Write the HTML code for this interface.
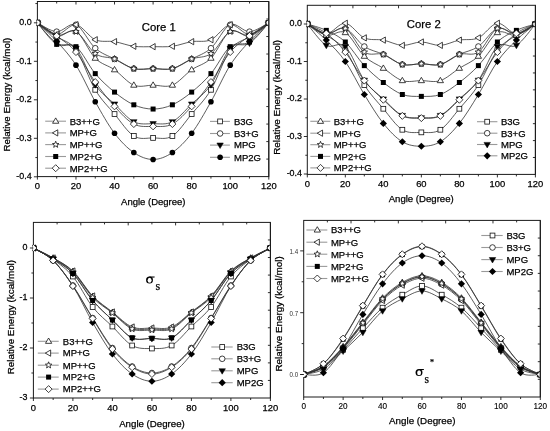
<!DOCTYPE html>
<html><head><meta charset="utf-8"><title>Relative Energy plots</title>
<style>html,body{margin:0;padding:0;background:#fff;}body{width:550px;height:431px;overflow:hidden;font-family:"Liberation Sans",sans-serif;}svg{display:block;will-change:transform;filter:blur(0.35px);} text{stroke:#000;stroke-width:0.25px;}</style>
</head><body>
<svg width="550" height="431" viewBox="0 0 550 431">
<rect width="550" height="431" fill="#fff"/>
<clipPath id="c37"><rect x="36.7" y="1.5" width="231.6" height="175.1"/></clipPath>
<rect x="37.4" y="1.5" width="231.4" height="175.1" fill="none" stroke="#1a1a1a" stroke-width="1"/>
<g clip-path="url(#c37)">
<path d="M37.4,22.8 C40.61,24.28 50.26,31.33 56.68,31.66 C63.11,31.98 69.54,21.97 75.97,24.73 C82.39,27.48 88.82,42.5 95.25,48.21 C101.68,53.92 108.11,55.59 114.53,58.99 C120.96,62.39 127.39,67.01 133.82,68.61 C140.24,70.22 146.67,68.61 153.1,68.61 C159.53,68.61 165.96,70.22 172.38,68.61 C178.81,67.01 185.24,62.39 191.67,58.99 C198.09,55.59 204.52,53.92 210.95,48.21 C217.38,42.5 223.81,27.48 230.23,24.73 C236.66,21.97 243.09,31.98 249.52,31.66 C255.94,31.33 265.59,24.28 268.8,22.8" fill="none" stroke="#333333" stroke-width="0.8"/>
<path d="M37.4,22.8 C40.61,25.05 50.26,34.86 56.68,36.28 C63.11,37.69 69.54,27.61 75.97,31.27 C82.39,34.93 88.82,51.8 95.25,58.22 C101.68,64.64 108.11,65.28 114.53,69.77 C120.96,74.26 127.39,82.6 133.82,85.17 C140.24,87.74 146.67,85.17 153.1,85.17 C159.53,85.17 165.96,87.74 172.38,85.17 C178.81,82.6 185.24,74.26 191.67,69.77 C198.09,65.28 204.52,64.64 210.95,58.22 C217.38,51.8 223.81,34.93 230.23,31.27 C236.66,27.61 243.09,37.69 249.52,36.28 C255.94,34.86 265.59,25.05 268.8,22.8" fill="none" stroke="#333333" stroke-width="0.8"/>
<path d="M37.4,22.8 C40.61,24.85 50.26,33.64 56.68,35.12 C63.11,36.6 69.54,28.58 75.97,31.66 C82.39,34.73 88.82,49.04 95.25,53.6 C101.68,58.16 108.11,56.49 114.53,58.99 C120.96,61.49 127.39,67.01 133.82,68.61 C140.24,70.22 146.67,68.61 153.1,68.61 C159.53,68.61 165.96,70.22 172.38,68.61 C178.81,67.01 185.24,61.49 191.67,58.99 C198.09,56.49 204.52,58.16 210.95,53.6 C217.38,49.04 223.81,34.73 230.23,31.66 C236.66,28.58 243.09,36.6 249.52,35.12 C255.94,33.64 265.59,24.85 268.8,22.8" fill="none" stroke="#333333" stroke-width="0.8"/>
<path d="M37.4,22.8 C40.61,24.73 50.26,34.03 56.68,34.35 C63.11,34.67 69.54,23.83 75.97,24.73 C82.39,25.62 88.82,36.92 95.25,39.74 C101.68,42.56 108.11,40.57 114.53,41.67 C120.96,42.76 127.39,45.45 133.82,46.28 C140.24,47.12 146.67,46.67 153.1,46.67 C159.53,46.67 165.96,47.12 172.38,46.28 C178.81,45.45 185.24,42.76 191.67,41.67 C198.09,40.57 204.52,42.56 210.95,39.74 C217.38,36.92 223.81,25.62 230.23,24.73 C236.66,23.83 243.09,34.67 249.52,34.35 C255.94,34.03 265.59,24.73 268.8,22.8" fill="none" stroke="#333333" stroke-width="0.8"/>
<path d="M37.4,22.8 C40.61,25.11 50.26,32.17 56.68,36.66 C63.11,41.15 69.54,40.9 75.97,49.75 C82.39,58.6 88.82,79.07 95.25,89.79 C101.68,100.51 108.11,106.34 114.53,114.04 C120.96,121.74 127.39,132.01 133.82,135.99 C140.24,139.97 146.67,137.91 153.1,137.91 C159.53,137.91 165.96,139.97 172.38,135.99 C178.81,132.01 185.24,121.74 191.67,114.04 C198.09,106.34 204.52,100.51 210.95,89.79 C217.38,79.07 223.81,58.6 230.23,49.75 C236.66,40.9 243.09,41.15 249.52,36.66 C255.94,32.17 265.59,25.11 268.8,22.8" fill="none" stroke="#333333" stroke-width="0.8"/>
<path d="M37.4,22.8 C40.61,26.39 50.26,40.38 56.68,44.36 C63.11,48.34 69.54,41.79 75.97,46.67 C82.39,51.55 88.82,66.05 95.25,73.62 C101.68,81.19 108.11,86.9 114.53,92.1 C120.96,97.3 127.39,101.98 133.82,104.8 C140.24,107.63 146.67,109.04 153.1,109.04 C159.53,109.04 165.96,107.63 172.38,104.8 C178.81,101.98 185.24,97.3 191.67,92.1 C198.09,86.9 204.52,81.19 210.95,73.62 C217.38,66.05 223.81,51.93 230.23,46.67 C236.66,41.41 243.09,46.03 249.52,42.05 C255.94,38.07 265.59,26.01 268.8,22.8" fill="none" stroke="#333333" stroke-width="0.8"/>
<path d="M37.4,22.8 C40.61,26.2 50.26,38.97 56.68,43.2 C63.11,47.44 69.54,41.28 75.97,48.21 C82.39,55.14 88.82,75.48 95.25,84.78 C101.68,94.09 108.11,97.88 114.53,104.03 C120.96,110.19 127.39,118.47 133.82,121.75 C140.24,125.02 146.67,123.67 153.1,123.67 C159.53,123.67 165.96,125.02 172.38,121.75 C178.81,118.47 185.24,110.19 191.67,104.03 C198.09,97.88 204.52,94.09 210.95,84.78 C217.38,75.48 223.81,55.14 230.23,48.21 C236.66,41.28 243.09,47.44 249.52,43.2 C255.94,38.97 265.59,26.2 268.8,22.8" fill="none" stroke="#333333" stroke-width="0.8"/>
<path d="M37.4,22.8 C40.61,24.98 50.26,31.01 56.68,35.89 C63.11,40.77 69.54,44.36 75.97,52.06 C82.39,59.76 88.82,73.04 95.25,82.09 C101.68,91.14 108.11,99.35 114.53,106.34 C120.96,113.34 127.39,120.72 133.82,124.06 C140.24,127.39 146.67,126.37 153.1,126.37 C159.53,126.37 165.96,127.39 172.38,124.06 C178.81,120.72 185.24,113.34 191.67,106.34 C198.09,99.35 204.52,91.14 210.95,82.09 C217.38,73.04 223.81,59.76 230.23,52.06 C236.66,44.36 243.09,40.77 249.52,35.89 C255.94,31.01 265.59,24.98 268.8,22.8" fill="none" stroke="#333333" stroke-width="0.8"/>
<path d="M37.4,22.8 C40.61,25.88 50.26,34.22 56.68,41.28 C63.11,48.34 69.54,55.08 75.97,65.15 C82.39,75.22 88.82,90.37 95.25,101.72 C101.68,113.08 108.11,124.82 114.53,133.29 C120.96,141.76 127.39,148.18 133.82,152.55 C140.24,156.91 146.67,159.47 153.1,159.47 C159.53,159.47 165.96,156.91 172.38,152.55 C178.81,148.18 185.24,141.76 191.67,133.29 C198.09,124.82 204.52,113.08 210.95,101.72 C217.38,90.37 223.81,75.22 230.23,65.15 C236.66,55.08 243.09,48.34 249.52,41.28 C255.94,34.22 265.59,25.88 268.8,22.8" fill="none" stroke="#333333" stroke-width="0.8"/>
<circle cx="37.4" cy="22.8" r="2.8" fill="#fff" stroke="#111" stroke-width="0.8"/>
<circle cx="56.68" cy="31.66" r="2.8" fill="#fff" stroke="#111" stroke-width="0.8"/>
<circle cx="75.97" cy="24.73" r="2.8" fill="#fff" stroke="#111" stroke-width="0.8"/>
<circle cx="95.25" cy="48.21" r="2.8" fill="#fff" stroke="#111" stroke-width="0.8"/>
<circle cx="114.53" cy="58.99" r="2.8" fill="#fff" stroke="#111" stroke-width="0.8"/>
<circle cx="133.82" cy="68.61" r="2.8" fill="#fff" stroke="#111" stroke-width="0.8"/>
<circle cx="153.1" cy="68.61" r="2.8" fill="#fff" stroke="#111" stroke-width="0.8"/>
<circle cx="172.38" cy="68.61" r="2.8" fill="#fff" stroke="#111" stroke-width="0.8"/>
<circle cx="191.67" cy="58.99" r="2.8" fill="#fff" stroke="#111" stroke-width="0.8"/>
<circle cx="210.95" cy="48.21" r="2.8" fill="#fff" stroke="#111" stroke-width="0.8"/>
<circle cx="230.23" cy="24.73" r="2.8" fill="#fff" stroke="#111" stroke-width="0.8"/>
<circle cx="249.52" cy="31.66" r="2.8" fill="#fff" stroke="#111" stroke-width="0.8"/>
<circle cx="268.8" cy="22.8" r="2.8" fill="#fff" stroke="#111" stroke-width="0.8"/>
<polygon points="37.4,19.5 40.53,24.85 34.27,24.85" fill="#fff" stroke="#111" stroke-width="0.8"/>
<polygon points="56.68,32.98 59.82,38.32 53.55,38.32" fill="#fff" stroke="#111" stroke-width="0.8"/>
<polygon points="75.97,27.97 79.1,33.32 72.83,33.32" fill="#fff" stroke="#111" stroke-width="0.8"/>
<polygon points="95.25,54.92 98.39,60.27 92.11,60.27" fill="#fff" stroke="#111" stroke-width="0.8"/>
<polygon points="114.53,66.47 117.67,71.82 111.4,71.82" fill="#fff" stroke="#111" stroke-width="0.8"/>
<polygon points="133.82,81.87 136.95,87.22 130.68,87.22" fill="#fff" stroke="#111" stroke-width="0.8"/>
<polygon points="153.1,81.87 156.23,87.22 149.97,87.22" fill="#fff" stroke="#111" stroke-width="0.8"/>
<polygon points="172.38,81.87 175.52,87.22 169.25,87.22" fill="#fff" stroke="#111" stroke-width="0.8"/>
<polygon points="191.67,66.47 194.8,71.82 188.53,71.82" fill="#fff" stroke="#111" stroke-width="0.8"/>
<polygon points="210.95,54.92 214.09,60.27 207.82,60.27" fill="#fff" stroke="#111" stroke-width="0.8"/>
<polygon points="230.23,27.97 233.37,33.32 227.1,33.32" fill="#fff" stroke="#111" stroke-width="0.8"/>
<polygon points="249.52,32.98 252.65,38.32 246.38,38.32" fill="#fff" stroke="#111" stroke-width="0.8"/>
<polygon points="268.8,19.5 271.94,24.85 265.67,24.85" fill="#fff" stroke="#111" stroke-width="0.8"/>
<polygon points="37.4,19.4 38.25,21.63 40.63,21.75 38.78,23.25 39.4,25.55 37.4,24.25 35.4,25.55 36.02,23.25 34.17,21.75 36.55,21.63" fill="#fff" stroke="#111" stroke-width="0.8"/>
<polygon points="56.68,31.72 57.54,33.95 59.92,34.07 58.06,35.57 58.68,37.87 56.68,36.57 54.68,37.87 55.3,35.57 53.45,34.07 55.83,33.95" fill="#fff" stroke="#111" stroke-width="0.8"/>
<polygon points="75.97,28.26 76.82,30.48 79.2,30.6 77.35,32.1 77.97,34.41 75.97,33.11 73.97,34.41 74.59,32.1 72.73,30.6 75.11,30.48" fill="#fff" stroke="#111" stroke-width="0.8"/>
<polygon points="95.25,50.2 96.1,52.43 98.48,52.55 96.63,54.05 97.25,56.35 95.25,55.05 93.25,56.35 93.87,54.05 92.02,52.55 94.4,52.43" fill="#fff" stroke="#111" stroke-width="0.8"/>
<polygon points="114.53,55.59 115.39,57.82 117.77,57.94 115.91,59.44 116.53,61.74 114.53,60.44 112.53,61.74 113.15,59.44 111.3,57.94 113.68,57.82" fill="#fff" stroke="#111" stroke-width="0.8"/>
<polygon points="133.82,65.21 134.67,67.44 137.05,67.56 135.2,69.06 135.82,71.37 133.82,70.06 131.82,71.37 132.44,69.06 130.58,67.56 132.96,67.44" fill="#fff" stroke="#111" stroke-width="0.8"/>
<polygon points="153.1,65.21 153.95,67.44 156.33,67.56 154.48,69.06 155.1,71.37 153.1,70.06 151.1,71.37 151.72,69.06 149.87,67.56 152.25,67.44" fill="#fff" stroke="#111" stroke-width="0.8"/>
<polygon points="172.38,65.21 173.24,67.44 175.62,67.56 173.76,69.06 174.38,71.37 172.38,70.06 170.38,71.37 171,69.06 169.15,67.56 171.53,67.44" fill="#fff" stroke="#111" stroke-width="0.8"/>
<polygon points="191.67,55.59 192.52,57.82 194.9,57.94 193.05,59.44 193.67,61.74 191.67,60.44 189.67,61.74 190.29,59.44 188.43,57.94 190.81,57.82" fill="#fff" stroke="#111" stroke-width="0.8"/>
<polygon points="210.95,50.2 211.8,52.43 214.18,52.55 212.33,54.05 212.95,56.35 210.95,55.05 208.95,56.35 209.57,54.05 207.72,52.55 210.1,52.43" fill="#fff" stroke="#111" stroke-width="0.8"/>
<polygon points="230.23,28.26 231.09,30.48 233.47,30.6 231.61,32.1 232.23,34.41 230.23,33.11 228.23,34.41 228.85,32.1 227,30.6 229.38,30.48" fill="#fff" stroke="#111" stroke-width="0.8"/>
<polygon points="249.52,31.72 250.37,33.95 252.75,34.07 250.9,35.57 251.52,37.87 249.52,36.57 247.52,37.87 248.14,35.57 246.28,34.07 248.66,33.95" fill="#fff" stroke="#111" stroke-width="0.8"/>
<polygon points="268.8,19.4 269.65,21.63 272.03,21.75 270.18,23.25 270.8,25.55 268.8,24.25 266.8,25.55 267.42,23.25 265.57,21.75 267.95,21.63" fill="#fff" stroke="#111" stroke-width="0.8"/>
<polygon points="34.1,22.8 39.45,19.66 39.45,25.94" fill="#fff" stroke="#111" stroke-width="0.8"/>
<polygon points="53.38,34.35 58.73,31.22 58.73,37.48" fill="#fff" stroke="#111" stroke-width="0.8"/>
<polygon points="72.67,24.73 78.01,21.59 78.01,27.86" fill="#fff" stroke="#111" stroke-width="0.8"/>
<polygon points="91.95,39.74 97.3,36.6 97.3,42.87" fill="#fff" stroke="#111" stroke-width="0.8"/>
<polygon points="111.23,41.67 116.58,38.53 116.58,44.8" fill="#fff" stroke="#111" stroke-width="0.8"/>
<polygon points="130.52,46.28 135.86,43.15 135.86,49.42" fill="#fff" stroke="#111" stroke-width="0.8"/>
<polygon points="149.8,46.67 155.15,43.54 155.15,49.8" fill="#fff" stroke="#111" stroke-width="0.8"/>
<polygon points="169.08,46.28 174.43,43.15 174.43,49.42" fill="#fff" stroke="#111" stroke-width="0.8"/>
<polygon points="188.37,41.67 193.71,38.53 193.71,44.8" fill="#fff" stroke="#111" stroke-width="0.8"/>
<polygon points="207.65,39.74 213,36.6 213,42.87" fill="#fff" stroke="#111" stroke-width="0.8"/>
<polygon points="226.93,24.73 232.28,21.59 232.28,27.86" fill="#fff" stroke="#111" stroke-width="0.8"/>
<polygon points="246.22,34.35 251.56,31.22 251.56,37.48" fill="#fff" stroke="#111" stroke-width="0.8"/>
<polygon points="265.5,22.8 270.85,19.66 270.85,25.94" fill="#fff" stroke="#111" stroke-width="0.8"/>
<rect x="35" y="20.4" width="4.8" height="4.8" fill="#fff" stroke="#111" stroke-width="0.8"/>
<rect x="54.28" y="34.26" width="4.8" height="4.8" fill="#fff" stroke="#111" stroke-width="0.8"/>
<rect x="73.57" y="47.35" width="4.8" height="4.8" fill="#fff" stroke="#111" stroke-width="0.8"/>
<rect x="92.85" y="87.39" width="4.8" height="4.8" fill="#fff" stroke="#111" stroke-width="0.8"/>
<rect x="112.13" y="111.64" width="4.8" height="4.8" fill="#fff" stroke="#111" stroke-width="0.8"/>
<rect x="131.42" y="133.59" width="4.8" height="4.8" fill="#fff" stroke="#111" stroke-width="0.8"/>
<rect x="150.7" y="135.51" width="4.8" height="4.8" fill="#fff" stroke="#111" stroke-width="0.8"/>
<rect x="169.98" y="133.59" width="4.8" height="4.8" fill="#fff" stroke="#111" stroke-width="0.8"/>
<rect x="189.27" y="111.64" width="4.8" height="4.8" fill="#fff" stroke="#111" stroke-width="0.8"/>
<rect x="208.55" y="87.39" width="4.8" height="4.8" fill="#fff" stroke="#111" stroke-width="0.8"/>
<rect x="227.83" y="47.35" width="4.8" height="4.8" fill="#fff" stroke="#111" stroke-width="0.8"/>
<rect x="247.12" y="34.26" width="4.8" height="4.8" fill="#fff" stroke="#111" stroke-width="0.8"/>
<rect x="266.4" y="20.4" width="4.8" height="4.8" fill="#fff" stroke="#111" stroke-width="0.8"/>
<rect x="34.9" y="20.3" width="5" height="5" fill="#000"/>
<rect x="54.18" y="41.86" width="5" height="5" fill="#000"/>
<rect x="73.47" y="44.17" width="5" height="5" fill="#000"/>
<rect x="92.75" y="71.12" width="5" height="5" fill="#000"/>
<rect x="112.03" y="89.6" width="5" height="5" fill="#000"/>
<rect x="131.32" y="102.3" width="5" height="5" fill="#000"/>
<rect x="150.6" y="106.54" width="5" height="5" fill="#000"/>
<rect x="169.88" y="102.3" width="5" height="5" fill="#000"/>
<rect x="189.17" y="89.6" width="5" height="5" fill="#000"/>
<rect x="208.45" y="71.12" width="5" height="5" fill="#000"/>
<rect x="227.73" y="44.17" width="5" height="5" fill="#000"/>
<rect x="247.02" y="39.55" width="5" height="5" fill="#000"/>
<rect x="266.3" y="20.3" width="5" height="5" fill="#000"/>
<polygon points="37.4,26.2 40.63,20.69 34.17,20.69" fill="#000" stroke="#000" stroke-width="0.5"/>
<polygon points="56.68,46.6 59.91,41.1 53.45,41.1" fill="#000" stroke="#000" stroke-width="0.5"/>
<polygon points="75.97,51.61 79.2,46.1 72.74,46.1" fill="#000" stroke="#000" stroke-width="0.5"/>
<polygon points="95.25,88.19 98.48,82.68 92.02,82.68" fill="#000" stroke="#000" stroke-width="0.5"/>
<polygon points="114.53,107.44 117.76,101.93 111.3,101.93" fill="#000" stroke="#000" stroke-width="0.5"/>
<polygon points="133.82,125.15 137.05,119.64 130.59,119.64" fill="#000" stroke="#000" stroke-width="0.5"/>
<polygon points="153.1,127.07 156.33,121.56 149.87,121.56" fill="#000" stroke="#000" stroke-width="0.5"/>
<polygon points="172.38,125.15 175.61,119.64 169.15,119.64" fill="#000" stroke="#000" stroke-width="0.5"/>
<polygon points="191.67,107.44 194.9,101.93 188.44,101.93" fill="#000" stroke="#000" stroke-width="0.5"/>
<polygon points="210.95,88.19 214.18,82.68 207.72,82.68" fill="#000" stroke="#000" stroke-width="0.5"/>
<polygon points="230.23,51.61 233.46,46.1 227,46.1" fill="#000" stroke="#000" stroke-width="0.5"/>
<polygon points="249.52,46.6 252.75,41.1 246.29,41.1" fill="#000" stroke="#000" stroke-width="0.5"/>
<polygon points="268.8,26.2 272.03,20.69 265.57,20.69" fill="#000" stroke="#000" stroke-width="0.5"/>
<polygon points="37.4,19.3 40.9,22.8 37.4,26.3 33.9,22.8" fill="#fff" stroke="#111" stroke-width="0.8"/>
<polygon points="56.68,32.39 60.18,35.89 56.68,39.39 53.18,35.89" fill="#fff" stroke="#111" stroke-width="0.8"/>
<polygon points="75.97,48.56 79.47,52.06 75.97,55.56 72.47,52.06" fill="#fff" stroke="#111" stroke-width="0.8"/>
<polygon points="95.25,78.59 98.75,82.09 95.25,85.59 91.75,82.09" fill="#fff" stroke="#111" stroke-width="0.8"/>
<polygon points="114.53,102.84 118.03,106.34 114.53,109.84 111.03,106.34" fill="#fff" stroke="#111" stroke-width="0.8"/>
<polygon points="133.82,120.56 137.32,124.06 133.82,127.56 130.32,124.06" fill="#fff" stroke="#111" stroke-width="0.8"/>
<polygon points="153.1,122.87 156.6,126.37 153.1,129.87 149.6,126.37" fill="#fff" stroke="#111" stroke-width="0.8"/>
<polygon points="172.38,120.56 175.88,124.06 172.38,127.56 168.88,124.06" fill="#fff" stroke="#111" stroke-width="0.8"/>
<polygon points="191.67,102.84 195.17,106.34 191.67,109.84 188.17,106.34" fill="#fff" stroke="#111" stroke-width="0.8"/>
<polygon points="210.95,78.59 214.45,82.09 210.95,85.59 207.45,82.09" fill="#fff" stroke="#111" stroke-width="0.8"/>
<polygon points="230.23,48.56 233.73,52.06 230.23,55.56 226.73,52.06" fill="#fff" stroke="#111" stroke-width="0.8"/>
<polygon points="249.52,32.39 253.02,35.89 249.52,39.39 246.02,35.89" fill="#fff" stroke="#111" stroke-width="0.8"/>
<polygon points="268.8,19.3 272.3,22.8 268.8,26.3 265.3,22.8" fill="#fff" stroke="#111" stroke-width="0.8"/>
<circle cx="37.4" cy="22.8" r="2.8" fill="#000"/>
<circle cx="56.68" cy="41.28" r="2.8" fill="#000"/>
<circle cx="75.97" cy="65.15" r="2.8" fill="#000"/>
<circle cx="95.25" cy="101.72" r="2.8" fill="#000"/>
<circle cx="114.53" cy="133.29" r="2.8" fill="#000"/>
<circle cx="133.82" cy="152.55" r="2.8" fill="#000"/>
<circle cx="153.1" cy="159.47" r="2.8" fill="#000"/>
<circle cx="172.38" cy="152.55" r="2.8" fill="#000"/>
<circle cx="191.67" cy="133.29" r="2.8" fill="#000"/>
<circle cx="210.95" cy="101.72" r="2.8" fill="#000"/>
<circle cx="230.23" cy="65.15" r="2.8" fill="#000"/>
<circle cx="249.52" cy="41.28" r="2.8" fill="#000"/>
<circle cx="268.8" cy="22.8" r="2.8" fill="#000"/>
<circle cx="37.4" cy="22.8" r="2.8" fill="#fff" stroke="#111" stroke-width="0.8"/>
<circle cx="268.8" cy="22.8" r="2.8" fill="#fff" stroke="#111" stroke-width="0.8"/>
</g>
<line x1="268.8" y1="1.5" x2="268.8" y2="176.6" stroke="#1a1a1a" stroke-width="1"/>
<path d="M37.4,176.6 v3 M56.68,176.6 v2 M75.97,176.6 v3 M95.25,176.6 v2 M114.53,176.6 v3 M133.82,176.6 v2 M153.1,176.6 v3 M172.38,176.6 v2 M191.67,176.6 v3 M210.95,176.6 v2 M230.23,176.6 v3 M249.52,176.6 v2 M268.8,176.6 v3 M56.68,1.5 v2 M75.97,1.5 v3 M95.25,1.5 v2 M114.53,1.5 v3 M133.82,1.5 v2 M153.1,1.5 v3 M172.38,1.5 v2 M191.67,1.5 v3 M210.95,1.5 v2 M230.23,1.5 v3 M249.52,1.5 v2 M37.4,3.55 h-2 M37.4,22.8 h-3.5 M37.4,42.05 h-2 M37.4,61.3 h-3.5 M37.4,80.55 h-2 M37.4,99.8 h-3.5 M37.4,119.05 h-2 M37.4,138.3 h-3.5 M37.4,157.55 h-2 M37.4,176.8 h-3.5 M268.8,19.01 h-2.5 M268.8,36.52 h-2.5 M268.8,54.03 h-2.5 M268.8,71.54 h-2.5 M268.8,89.05 h-2.5 M268.8,106.56 h-2.5 M268.8,124.07 h-2.5 M268.8,141.58 h-2.5 M268.8,159.09 h-2.5" stroke="#1a1a1a" stroke-width="0.9" fill="none"/>
<text x="37.4" y="189" font-size="9.4" text-anchor="middle" font-family='"Liberation Sans", sans-serif' >0</text>
<text x="75.97" y="189" font-size="9.4" text-anchor="middle" font-family='"Liberation Sans", sans-serif' >20</text>
<text x="114.53" y="189" font-size="9.4" text-anchor="middle" font-family='"Liberation Sans", sans-serif' >40</text>
<text x="153.1" y="189" font-size="9.4" text-anchor="middle" font-family='"Liberation Sans", sans-serif' >60</text>
<text x="191.67" y="189" font-size="9.4" text-anchor="middle" font-family='"Liberation Sans", sans-serif' >80</text>
<text x="230.23" y="189" font-size="9.4" text-anchor="middle" font-family='"Liberation Sans", sans-serif' >100</text>
<text x="268.8" y="189" font-size="9.4" text-anchor="middle" font-family='"Liberation Sans", sans-serif' >120</text>
<text transform="translate(31.6,25.2) scale(0.95,1)" font-size="9.4" text-anchor="end" font-family='"Liberation Sans", sans-serif'>0.0</text>
<text transform="translate(31.6,63.7) scale(0.95,1)" font-size="9.4" text-anchor="end" font-family='"Liberation Sans", sans-serif'>-0.1</text>
<text transform="translate(31.6,102.2) scale(0.95,1)" font-size="9.4" text-anchor="end" font-family='"Liberation Sans", sans-serif'>-0.2</text>
<text transform="translate(31.6,140.7) scale(0.95,1)" font-size="9.4" text-anchor="end" font-family='"Liberation Sans", sans-serif'>-0.3</text>
<text transform="translate(31.6,179.2) scale(0.95,1)" font-size="9.4" text-anchor="end" font-family='"Liberation Sans", sans-serif'>-0.4</text>
<text x="153.3" y="204.7" font-size="9.5" text-anchor="middle" font-family='"Liberation Sans", sans-serif' >Angle (Degree)</text>
<text transform="translate(9.8,94.6) rotate(-90)" font-size="9.75" text-anchor="middle" font-family='"Liberation Sans", sans-serif'>Relative Energy (kcal/mol)</text>
<line x1="45.2" y1="121.2" x2="66" y2="121.2" stroke="#9a9a9a" stroke-width="1.1"/>
<polygon points="55.7,117.9 58.84,123.25 52.57,123.25" fill="#fff" stroke="#111" stroke-width="0.8"/>
<text x="69.7" y="124.53" font-size="9.5" text-anchor="start" font-family='"Liberation Sans", sans-serif' >B3++G</text>
<line x1="45.2" y1="132.9" x2="66" y2="132.9" stroke="#9a9a9a" stroke-width="1.1"/>
<polygon points="52.4,132.9 57.75,129.77 57.75,136.03" fill="#fff" stroke="#111" stroke-width="0.8"/>
<text x="69.7" y="136.22" font-size="9.5" text-anchor="start" font-family='"Liberation Sans", sans-serif' >MP+G</text>
<line x1="45.2" y1="144.6" x2="66" y2="144.6" stroke="#9a9a9a" stroke-width="1.1"/>
<polygon points="55.7,141.2 56.55,143.43 58.93,143.55 57.08,145.05 57.7,147.35 55.7,146.05 53.7,147.35 54.32,145.05 52.47,143.55 54.85,143.43" fill="#fff" stroke="#111" stroke-width="0.8"/>
<text x="69.7" y="147.92" font-size="9.5" text-anchor="start" font-family='"Liberation Sans", sans-serif' >MP++G</text>
<line x1="45.2" y1="156.5" x2="66" y2="156.5" stroke="#9a9a9a" stroke-width="1.1"/>
<rect x="53.2" y="154" width="5" height="5" fill="#000"/>
<text x="69.7" y="159.82" font-size="9.5" text-anchor="start" font-family='"Liberation Sans", sans-serif' >MP2+G</text>
<line x1="45.2" y1="168.2" x2="66" y2="168.2" stroke="#9a9a9a" stroke-width="1.1"/>
<polygon points="55.7,164.7 59.2,168.2 55.7,171.7 52.2,168.2" fill="#fff" stroke="#111" stroke-width="0.8"/>
<text x="69.7" y="171.52" font-size="9.5" text-anchor="start" font-family='"Liberation Sans", sans-serif' >MP2++G</text>
<line x1="210" y1="121.4" x2="229.9" y2="121.4" stroke="#9a9a9a" stroke-width="1.1"/>
<rect x="217.7" y="119" width="4.8" height="4.8" fill="#fff" stroke="#111" stroke-width="0.8"/>
<text x="234" y="124.73" font-size="9.5" text-anchor="start" font-family='"Liberation Sans", sans-serif' >B3G</text>
<line x1="210" y1="133.5" x2="229.9" y2="133.5" stroke="#9a9a9a" stroke-width="1.1"/>
<circle cx="220.1" cy="133.5" r="2.8" fill="#fff" stroke="#111" stroke-width="0.8"/>
<text x="234" y="136.82" font-size="9.5" text-anchor="start" font-family='"Liberation Sans", sans-serif' >B3+G</text>
<line x1="210" y1="145.1" x2="229.9" y2="145.1" stroke="#9a9a9a" stroke-width="1.1"/>
<polygon points="220.1,148.5 223.33,142.99 216.87,142.99" fill="#000" stroke="#000" stroke-width="0.5"/>
<text x="234" y="148.42" font-size="9.5" text-anchor="start" font-family='"Liberation Sans", sans-serif' >MPG</text>
<line x1="210" y1="157.3" x2="229.9" y2="157.3" stroke="#9a9a9a" stroke-width="1.1"/>
<circle cx="220.1" cy="157.3" r="2.8" fill="#000"/>
<text x="234" y="160.62" font-size="9.5" text-anchor="start" font-family='"Liberation Sans", sans-serif' >MP2G</text>
<clipPath id="c307"><rect x="306.6" y="5.3" width="228.3" height="169.1"/></clipPath>
<rect x="307.3" y="5.3" width="228.1" height="169.1" fill="none" stroke="#1a1a1a" stroke-width="1"/>
<g clip-path="url(#c307)">
<path d="M307.3,24 C310.47,25.56 319.97,32.62 326.31,33.38 C332.64,34.12 338.98,26.31 345.32,28.5 C351.65,30.69 357.99,42.19 364.32,46.5 C370.66,50.81 377,51.38 383.33,54.38 C389.67,57.38 396.01,62.94 402.34,64.5 C408.68,66.06 415.01,63.75 421.35,63.75 C427.69,63.75 434.02,66.06 440.36,64.5 C446.69,62.94 453.03,57.38 459.37,54.38 C465.7,51.38 472.04,50.81 478.38,46.5 C484.71,42.19 491.05,30.69 497.38,28.5 C503.72,26.31 510.06,34.12 516.39,33.38 C522.73,32.62 532.23,25.56 535.4,24" fill="none" stroke="#333333" stroke-width="0.8"/>
<path d="M307.3,24 C310.47,25.88 319.97,33.81 326.31,35.25 C332.64,36.69 338.98,29.12 345.32,32.62 C351.65,36.12 357.99,50.31 364.32,56.25 C370.66,62.19 377,64.19 383.33,68.25 C389.67,72.31 396.01,78.56 402.34,80.62 C408.68,82.69 415.01,80.62 421.35,80.62 C427.69,80.62 434.02,82.69 440.36,80.62 C446.69,78.56 453.03,72.31 459.37,68.25 C465.7,64.19 472.04,62.19 478.38,56.25 C484.71,50.31 491.05,36.12 497.38,32.62 C503.72,29.12 510.06,36.69 516.39,35.25 C522.73,33.81 532.23,25.88 535.4,24" fill="none" stroke="#333333" stroke-width="0.8"/>
<path d="M307.3,24 C310.47,25.75 319.97,33.75 326.31,34.5 C332.64,35.25 338.98,25.56 345.32,28.5 C351.65,31.44 357.99,47.81 364.32,52.12 C370.66,56.44 377,52.31 383.33,54.38 C389.67,56.44 396.01,62.94 402.34,64.5 C408.68,66.06 415.01,63.75 421.35,63.75 C427.69,63.75 434.02,66.06 440.36,64.5 C446.69,62.94 453.03,56.44 459.37,54.38 C465.7,52.31 472.04,56.44 478.38,52.12 C484.71,47.81 491.05,31.44 497.38,28.5 C503.72,25.56 510.06,35.25 516.39,34.5 C522.73,33.75 532.23,25.75 535.4,24" fill="none" stroke="#333333" stroke-width="0.8"/>
<path d="M307.3,24 C310.47,25.62 319.97,33.88 326.31,33.75 C332.64,33.62 338.98,22.56 345.32,23.25 C351.65,23.94 357.99,35.06 364.32,37.88 C370.66,40.69 377,38.88 383.33,40.12 C389.67,41.38 396.01,45.06 402.34,45.38 C408.68,45.69 415.01,42 421.35,42 C427.69,42 434.02,45.69 440.36,45.38 C446.69,45.06 453.03,41.38 459.37,40.12 C465.7,38.88 472.04,40.69 478.38,37.88 C484.71,35.06 491.05,23.94 497.38,23.25 C503.72,22.56 510.06,33.62 516.39,33.75 C522.73,33.88 532.23,25.62 535.4,24" fill="none" stroke="#333333" stroke-width="0.8"/>
<path d="M307.3,24 C310.47,25.88 319.97,30.88 326.31,35.25 C332.64,39.62 338.98,41.94 345.32,50.25 C351.65,58.56 357.99,75.38 364.32,85.12 C370.66,94.88 377,101.31 383.33,108.75 C389.67,116.19 396.01,125.81 402.34,129.75 C408.68,133.69 415.01,132.38 421.35,132.38 C427.69,132.38 434.02,133.69 440.36,129.75 C446.69,125.81 453.03,116.19 459.37,108.75 C465.7,101.31 472.04,94.88 478.38,85.12 C484.71,75.38 491.05,58.56 497.38,50.25 C503.72,41.94 510.06,39.62 516.39,35.25 C522.73,30.88 532.23,25.88 535.4,24" fill="none" stroke="#333333" stroke-width="0.8"/>
<path d="M307.3,24 C310.47,25.06 319.97,27.38 326.31,30.38 C332.64,33.38 338.98,36.12 345.32,42 C351.65,47.88 357.99,58.88 364.32,65.62 C370.66,72.38 377,77.69 383.33,82.5 C389.67,87.31 396.01,92.19 402.34,94.5 C408.68,96.81 415.01,96.38 421.35,96.38 C427.69,96.38 434.02,96.81 440.36,94.5 C446.69,92.19 453.03,87.31 459.37,82.5 C465.7,77.69 472.04,72.38 478.38,65.62 C484.71,58.88 491.05,47.88 497.38,42 C503.72,36.12 510.06,33.38 516.39,30.38 C522.73,27.38 532.23,25.06 535.4,24" fill="none" stroke="#333333" stroke-width="0.8"/>
<path d="M307.3,24 C310.47,27.56 319.97,41.62 326.31,45.38 C332.64,49.12 338.98,40.69 345.32,46.5 C351.65,52.31 357.99,71.5 364.32,80.25 C370.66,89 377,93.12 383.33,99 C389.67,104.88 396.01,112.38 402.34,115.5 C408.68,118.62 415.01,117.75 421.35,117.75 C427.69,117.75 434.02,118.62 440.36,115.5 C446.69,112.38 453.03,104.88 459.37,99 C465.7,93.12 472.04,89 478.38,80.25 C484.71,71.5 491.05,52.31 497.38,46.5 C503.72,40.69 510.06,49.12 516.39,45.38 C522.73,41.62 532.23,27.56 535.4,24" fill="none" stroke="#333333" stroke-width="0.8"/>
<path d="M307.3,24 C310.47,25.56 319.97,28.69 326.31,33.38 C332.64,38.06 338.98,44.25 345.32,52.12 C351.65,60 357.99,72.69 364.32,80.62 C370.66,88.56 377,93.88 383.33,99.75 C389.67,105.62 396.01,112.81 402.34,115.88 C408.68,118.94 415.01,118.12 421.35,118.12 C427.69,118.12 434.02,118.94 440.36,115.88 C446.69,112.81 453.03,105.62 459.37,99.75 C465.7,93.88 472.04,88.56 478.38,80.62 C484.71,72.69 491.05,60 497.38,52.12 C503.72,44.25 510.06,38.06 516.39,33.38 C522.73,28.69 532.23,25.56 535.4,24" fill="none" stroke="#333333" stroke-width="0.8"/>
<path d="M307.3,24 C310.47,26.69 319.97,33.88 326.31,40.12 C332.64,46.38 338.98,52.44 345.32,61.5 C351.65,70.56 357.99,84.19 364.32,94.5 C370.66,104.81 377,115.5 383.33,123.38 C389.67,131.25 396.01,137.94 402.34,141.75 C408.68,145.56 415.01,146.25 421.35,146.25 C427.69,146.25 434.02,145.56 440.36,141.75 C446.69,137.94 453.03,131.25 459.37,123.38 C465.7,115.5 472.04,104.81 478.38,94.5 C484.71,84.19 491.05,70.56 497.38,61.5 C503.72,52.44 510.06,46.38 516.39,40.12 C522.73,33.88 532.23,26.69 535.4,24" fill="none" stroke="#333333" stroke-width="0.8"/>
<circle cx="307.3" cy="24" r="2.8" fill="#fff" stroke="#111" stroke-width="0.8"/>
<circle cx="326.31" cy="33.38" r="2.8" fill="#fff" stroke="#111" stroke-width="0.8"/>
<circle cx="345.32" cy="28.5" r="2.8" fill="#fff" stroke="#111" stroke-width="0.8"/>
<circle cx="364.32" cy="46.5" r="2.8" fill="#fff" stroke="#111" stroke-width="0.8"/>
<circle cx="383.33" cy="54.38" r="2.8" fill="#fff" stroke="#111" stroke-width="0.8"/>
<circle cx="402.34" cy="64.5" r="2.8" fill="#fff" stroke="#111" stroke-width="0.8"/>
<circle cx="421.35" cy="63.75" r="2.8" fill="#fff" stroke="#111" stroke-width="0.8"/>
<circle cx="440.36" cy="64.5" r="2.8" fill="#fff" stroke="#111" stroke-width="0.8"/>
<circle cx="459.37" cy="54.38" r="2.8" fill="#fff" stroke="#111" stroke-width="0.8"/>
<circle cx="478.38" cy="46.5" r="2.8" fill="#fff" stroke="#111" stroke-width="0.8"/>
<circle cx="497.38" cy="28.5" r="2.8" fill="#fff" stroke="#111" stroke-width="0.8"/>
<circle cx="516.39" cy="33.38" r="2.8" fill="#fff" stroke="#111" stroke-width="0.8"/>
<circle cx="535.4" cy="24" r="2.8" fill="#fff" stroke="#111" stroke-width="0.8"/>
<polygon points="307.3,20.7 310.44,26.05 304.17,26.05" fill="#fff" stroke="#111" stroke-width="0.8"/>
<polygon points="326.31,31.95 329.44,37.3 323.17,37.3" fill="#fff" stroke="#111" stroke-width="0.8"/>
<polygon points="345.32,29.32 348.45,34.67 342.18,34.67" fill="#fff" stroke="#111" stroke-width="0.8"/>
<polygon points="364.32,52.95 367.46,58.3 361.19,58.3" fill="#fff" stroke="#111" stroke-width="0.8"/>
<polygon points="383.33,64.95 386.47,70.3 380.2,70.3" fill="#fff" stroke="#111" stroke-width="0.8"/>
<polygon points="402.34,77.33 405.48,82.67 399.21,82.67" fill="#fff" stroke="#111" stroke-width="0.8"/>
<polygon points="421.35,77.33 424.49,82.67 418.22,82.67" fill="#fff" stroke="#111" stroke-width="0.8"/>
<polygon points="440.36,77.33 443.49,82.67 437.22,82.67" fill="#fff" stroke="#111" stroke-width="0.8"/>
<polygon points="459.37,64.95 462.5,70.3 456.23,70.3" fill="#fff" stroke="#111" stroke-width="0.8"/>
<polygon points="478.38,52.95 481.51,58.3 475.24,58.3" fill="#fff" stroke="#111" stroke-width="0.8"/>
<polygon points="497.38,29.32 500.52,34.67 494.25,34.67" fill="#fff" stroke="#111" stroke-width="0.8"/>
<polygon points="516.39,31.95 519.53,37.3 513.26,37.3" fill="#fff" stroke="#111" stroke-width="0.8"/>
<polygon points="535.4,20.7 538.53,26.05 532.26,26.05" fill="#fff" stroke="#111" stroke-width="0.8"/>
<polygon points="307.3,20.6 308.15,22.83 310.53,22.95 308.68,24.45 309.3,26.75 307.3,25.45 305.3,26.75 305.92,24.45 304.07,22.95 306.45,22.83" fill="#fff" stroke="#111" stroke-width="0.8"/>
<polygon points="326.31,31.1 327.16,33.33 329.54,33.45 327.69,34.95 328.31,37.25 326.31,35.95 324.31,37.25 324.93,34.95 323.07,33.45 325.46,33.33" fill="#fff" stroke="#111" stroke-width="0.8"/>
<polygon points="345.32,25.1 346.17,27.33 348.55,27.45 346.7,28.95 347.32,31.25 345.32,29.95 343.32,31.25 343.94,28.95 342.08,27.45 344.46,27.33" fill="#fff" stroke="#111" stroke-width="0.8"/>
<polygon points="364.32,48.73 365.18,50.95 367.56,51.07 365.7,52.57 366.32,54.88 364.32,53.58 362.33,54.88 362.95,52.57 361.09,51.07 363.47,50.95" fill="#fff" stroke="#111" stroke-width="0.8"/>
<polygon points="383.33,50.98 384.19,53.2 386.57,53.32 384.71,54.82 385.33,57.13 383.33,55.83 381.33,57.13 381.95,54.82 380.1,53.32 382.48,53.2" fill="#fff" stroke="#111" stroke-width="0.8"/>
<polygon points="402.34,61.1 403.19,63.33 405.58,63.45 403.72,64.95 404.34,67.25 402.34,65.95 400.34,67.25 400.96,64.95 399.11,63.45 401.49,63.33" fill="#fff" stroke="#111" stroke-width="0.8"/>
<polygon points="421.35,60.35 422.2,62.58 424.58,62.7 422.73,64.2 423.35,66.5 421.35,65.2 419.35,66.5 419.97,64.2 418.12,62.7 420.5,62.58" fill="#fff" stroke="#111" stroke-width="0.8"/>
<polygon points="440.36,61.1 441.21,63.33 443.59,63.45 441.74,64.95 442.36,67.25 440.36,65.95 438.36,67.25 438.98,64.95 437.12,63.45 439.51,63.33" fill="#fff" stroke="#111" stroke-width="0.8"/>
<polygon points="459.37,50.98 460.22,53.2 462.6,53.32 460.75,54.82 461.37,57.13 459.37,55.83 457.37,57.13 457.99,54.82 456.13,53.32 458.51,53.2" fill="#fff" stroke="#111" stroke-width="0.8"/>
<polygon points="478.38,48.73 479.23,50.95 481.61,51.07 479.75,52.57 480.37,54.88 478.38,53.58 476.38,54.88 477,52.57 475.14,51.07 477.52,50.95" fill="#fff" stroke="#111" stroke-width="0.8"/>
<polygon points="497.38,25.1 498.24,27.33 500.62,27.45 498.76,28.95 499.38,31.25 497.38,29.95 495.38,31.25 496,28.95 494.15,27.45 496.53,27.33" fill="#fff" stroke="#111" stroke-width="0.8"/>
<polygon points="516.39,31.1 517.24,33.33 519.63,33.45 517.77,34.95 518.39,37.25 516.39,35.95 514.39,37.25 515.01,34.95 513.16,33.45 515.54,33.33" fill="#fff" stroke="#111" stroke-width="0.8"/>
<polygon points="535.4,20.6 536.25,22.83 538.63,22.95 536.78,24.45 537.4,26.75 535.4,25.45 533.4,26.75 534.02,24.45 532.17,22.95 534.55,22.83" fill="#fff" stroke="#111" stroke-width="0.8"/>
<polygon points="304,24 309.35,20.87 309.35,27.13" fill="#fff" stroke="#111" stroke-width="0.8"/>
<polygon points="323.01,33.75 328.35,30.62 328.35,36.88" fill="#fff" stroke="#111" stroke-width="0.8"/>
<polygon points="342.02,23.25 347.36,20.12 347.36,26.38" fill="#fff" stroke="#111" stroke-width="0.8"/>
<polygon points="361.02,37.88 366.37,34.74 366.37,41.01" fill="#fff" stroke="#111" stroke-width="0.8"/>
<polygon points="380.03,40.12 385.38,36.99 385.38,43.26" fill="#fff" stroke="#111" stroke-width="0.8"/>
<polygon points="399.04,45.38 404.39,42.24 404.39,48.51" fill="#fff" stroke="#111" stroke-width="0.8"/>
<polygon points="418.05,42 423.4,38.87 423.4,45.13" fill="#fff" stroke="#111" stroke-width="0.8"/>
<polygon points="437.06,45.38 442.4,42.24 442.4,48.51" fill="#fff" stroke="#111" stroke-width="0.8"/>
<polygon points="456.07,40.12 461.41,36.99 461.41,43.26" fill="#fff" stroke="#111" stroke-width="0.8"/>
<polygon points="475.07,37.88 480.42,34.74 480.42,41.01" fill="#fff" stroke="#111" stroke-width="0.8"/>
<polygon points="494.08,23.25 499.43,20.12 499.43,26.38" fill="#fff" stroke="#111" stroke-width="0.8"/>
<polygon points="513.09,33.75 518.44,30.62 518.44,36.88" fill="#fff" stroke="#111" stroke-width="0.8"/>
<polygon points="532.1,24 537.45,20.87 537.45,27.13" fill="#fff" stroke="#111" stroke-width="0.8"/>
<rect x="304.9" y="21.6" width="4.8" height="4.8" fill="#fff" stroke="#111" stroke-width="0.8"/>
<rect x="323.91" y="32.85" width="4.8" height="4.8" fill="#fff" stroke="#111" stroke-width="0.8"/>
<rect x="342.92" y="47.85" width="4.8" height="4.8" fill="#fff" stroke="#111" stroke-width="0.8"/>
<rect x="361.93" y="82.72" width="4.8" height="4.8" fill="#fff" stroke="#111" stroke-width="0.8"/>
<rect x="380.93" y="106.35" width="4.8" height="4.8" fill="#fff" stroke="#111" stroke-width="0.8"/>
<rect x="399.94" y="127.35" width="4.8" height="4.8" fill="#fff" stroke="#111" stroke-width="0.8"/>
<rect x="418.95" y="129.97" width="4.8" height="4.8" fill="#fff" stroke="#111" stroke-width="0.8"/>
<rect x="437.96" y="127.35" width="4.8" height="4.8" fill="#fff" stroke="#111" stroke-width="0.8"/>
<rect x="456.97" y="106.35" width="4.8" height="4.8" fill="#fff" stroke="#111" stroke-width="0.8"/>
<rect x="475.98" y="82.72" width="4.8" height="4.8" fill="#fff" stroke="#111" stroke-width="0.8"/>
<rect x="494.98" y="47.85" width="4.8" height="4.8" fill="#fff" stroke="#111" stroke-width="0.8"/>
<rect x="513.99" y="32.85" width="4.8" height="4.8" fill="#fff" stroke="#111" stroke-width="0.8"/>
<rect x="533" y="21.6" width="4.8" height="4.8" fill="#fff" stroke="#111" stroke-width="0.8"/>
<rect x="304.8" y="21.5" width="5" height="5" fill="#000"/>
<rect x="323.81" y="27.88" width="5" height="5" fill="#000"/>
<rect x="342.82" y="39.5" width="5" height="5" fill="#000"/>
<rect x="361.82" y="63.12" width="5" height="5" fill="#000"/>
<rect x="380.83" y="80" width="5" height="5" fill="#000"/>
<rect x="399.84" y="92" width="5" height="5" fill="#000"/>
<rect x="418.85" y="93.88" width="5" height="5" fill="#000"/>
<rect x="437.86" y="92" width="5" height="5" fill="#000"/>
<rect x="456.87" y="80" width="5" height="5" fill="#000"/>
<rect x="475.88" y="63.12" width="5" height="5" fill="#000"/>
<rect x="494.88" y="39.5" width="5" height="5" fill="#000"/>
<rect x="513.89" y="27.88" width="5" height="5" fill="#000"/>
<rect x="532.9" y="21.5" width="5" height="5" fill="#000"/>
<polygon points="307.3,27.4 310.53,21.89 304.07,21.89" fill="#000" stroke="#000" stroke-width="0.5"/>
<polygon points="326.31,48.77 329.54,43.27 323.08,43.27" fill="#000" stroke="#000" stroke-width="0.5"/>
<polygon points="345.32,49.9 348.55,44.39 342.09,44.39" fill="#000" stroke="#000" stroke-width="0.5"/>
<polygon points="364.32,83.65 367.56,78.14 361.09,78.14" fill="#000" stroke="#000" stroke-width="0.5"/>
<polygon points="383.33,102.4 386.56,96.89 380.1,96.89" fill="#000" stroke="#000" stroke-width="0.5"/>
<polygon points="402.34,118.9 405.57,113.39 399.11,113.39" fill="#000" stroke="#000" stroke-width="0.5"/>
<polygon points="421.35,121.15 424.58,115.64 418.12,115.64" fill="#000" stroke="#000" stroke-width="0.5"/>
<polygon points="440.36,118.9 443.59,113.39 437.13,113.39" fill="#000" stroke="#000" stroke-width="0.5"/>
<polygon points="459.37,102.4 462.6,96.89 456.14,96.89" fill="#000" stroke="#000" stroke-width="0.5"/>
<polygon points="478.38,83.65 481.61,78.14 475.14,78.14" fill="#000" stroke="#000" stroke-width="0.5"/>
<polygon points="497.38,49.9 500.61,44.39 494.15,44.39" fill="#000" stroke="#000" stroke-width="0.5"/>
<polygon points="516.39,48.77 519.62,43.27 513.16,43.27" fill="#000" stroke="#000" stroke-width="0.5"/>
<polygon points="535.4,27.4 538.63,21.89 532.17,21.89" fill="#000" stroke="#000" stroke-width="0.5"/>
<polygon points="307.3,20.5 310.8,24 307.3,27.5 303.8,24" fill="#fff" stroke="#111" stroke-width="0.8"/>
<polygon points="326.31,29.88 329.81,33.38 326.31,36.88 322.81,33.38" fill="#fff" stroke="#111" stroke-width="0.8"/>
<polygon points="345.32,48.62 348.82,52.12 345.32,55.62 341.82,52.12" fill="#fff" stroke="#111" stroke-width="0.8"/>
<polygon points="364.32,77.12 367.82,80.62 364.32,84.12 360.82,80.62" fill="#fff" stroke="#111" stroke-width="0.8"/>
<polygon points="383.33,96.25 386.83,99.75 383.33,103.25 379.83,99.75" fill="#fff" stroke="#111" stroke-width="0.8"/>
<polygon points="402.34,112.38 405.84,115.88 402.34,119.38 398.84,115.88" fill="#fff" stroke="#111" stroke-width="0.8"/>
<polygon points="421.35,114.62 424.85,118.12 421.35,121.62 417.85,118.12" fill="#fff" stroke="#111" stroke-width="0.8"/>
<polygon points="440.36,112.38 443.86,115.88 440.36,119.38 436.86,115.88" fill="#fff" stroke="#111" stroke-width="0.8"/>
<polygon points="459.37,96.25 462.87,99.75 459.37,103.25 455.87,99.75" fill="#fff" stroke="#111" stroke-width="0.8"/>
<polygon points="478.38,77.12 481.88,80.62 478.38,84.12 474.88,80.62" fill="#fff" stroke="#111" stroke-width="0.8"/>
<polygon points="497.38,48.62 500.88,52.12 497.38,55.62 493.88,52.12" fill="#fff" stroke="#111" stroke-width="0.8"/>
<polygon points="516.39,29.88 519.89,33.38 516.39,36.88 512.89,33.38" fill="#fff" stroke="#111" stroke-width="0.8"/>
<polygon points="535.4,20.5 538.9,24 535.4,27.5 531.9,24" fill="#fff" stroke="#111" stroke-width="0.8"/>
<polygon points="307.3,20.4 310.9,24 307.3,27.6 303.7,24" fill="#000"/>
<polygon points="326.31,36.52 329.91,40.12 326.31,43.73 322.71,40.12" fill="#000"/>
<polygon points="345.32,57.9 348.92,61.5 345.32,65.1 341.72,61.5" fill="#000"/>
<polygon points="364.32,90.9 367.93,94.5 364.32,98.1 360.72,94.5" fill="#000"/>
<polygon points="383.33,119.78 386.93,123.38 383.33,126.97 379.73,123.38" fill="#000"/>
<polygon points="402.34,138.15 405.94,141.75 402.34,145.35 398.74,141.75" fill="#000"/>
<polygon points="421.35,142.65 424.95,146.25 421.35,149.85 417.75,146.25" fill="#000"/>
<polygon points="440.36,138.15 443.96,141.75 440.36,145.35 436.76,141.75" fill="#000"/>
<polygon points="459.37,119.78 462.97,123.38 459.37,126.97 455.77,123.38" fill="#000"/>
<polygon points="478.38,90.9 481.98,94.5 478.38,98.1 474.77,94.5" fill="#000"/>
<polygon points="497.38,57.9 500.98,61.5 497.38,65.1 493.78,61.5" fill="#000"/>
<polygon points="516.39,36.52 519.99,40.12 516.39,43.73 512.79,40.12" fill="#000"/>
<polygon points="535.4,20.4 539,24 535.4,27.6 531.8,24" fill="#000"/>
<circle cx="307.3" cy="24" r="2.8" fill="#fff" stroke="#111" stroke-width="0.8"/>
<circle cx="535.4" cy="24" r="2.8" fill="#fff" stroke="#111" stroke-width="0.8"/>
</g>
<line x1="535.4" y1="5.3" x2="535.4" y2="174.4" stroke="#1a1a1a" stroke-width="1"/>
<path d="M307.3,174.4 v3 M326.31,174.4 v2 M345.32,174.4 v3 M364.32,174.4 v2 M383.33,174.4 v3 M402.34,174.4 v2 M421.35,174.4 v3 M440.36,174.4 v2 M459.37,174.4 v3 M478.38,174.4 v2 M497.38,174.4 v3 M516.39,174.4 v2 M535.4,174.4 v3 M330.11,5.3 v2 M352.92,5.3 v3 M375.73,5.3 v2 M398.54,5.3 v3 M421.35,5.3 v2 M444.16,5.3 v3 M466.97,5.3 v2 M489.78,5.3 v3 M512.59,5.3 v2 M307.3,24 h-3.5 M307.3,42.75 h-2 M307.3,61.5 h-3.5 M307.3,80.25 h-2 M307.3,99 h-3.5 M307.3,117.75 h-2 M307.3,136.5 h-3.5 M307.3,155.25 h-2 M307.3,174 h-3.5 M535.4,22.21 h-2.5 M535.4,39.12 h-2.5 M535.4,56.03 h-2.5 M535.4,72.94 h-2.5 M535.4,89.85 h-2.5 M535.4,106.76 h-2.5 M535.4,123.67 h-2.5 M535.4,140.58 h-2.5 M535.4,157.49 h-2.5" stroke="#1a1a1a" stroke-width="0.9" fill="none"/>
<text x="307.3" y="186.8" font-size="9.4" text-anchor="middle" font-family='"Liberation Sans", sans-serif' >0</text>
<text x="345.32" y="186.8" font-size="9.4" text-anchor="middle" font-family='"Liberation Sans", sans-serif' >20</text>
<text x="383.33" y="186.8" font-size="9.4" text-anchor="middle" font-family='"Liberation Sans", sans-serif' >40</text>
<text x="421.35" y="186.8" font-size="9.4" text-anchor="middle" font-family='"Liberation Sans", sans-serif' >60</text>
<text x="459.37" y="186.8" font-size="9.4" text-anchor="middle" font-family='"Liberation Sans", sans-serif' >80</text>
<text x="497.38" y="186.8" font-size="9.4" text-anchor="middle" font-family='"Liberation Sans", sans-serif' >100</text>
<text x="535.4" y="186.8" font-size="9.4" text-anchor="middle" font-family='"Liberation Sans", sans-serif' >120</text>
<text transform="translate(302,26.4) scale(0.95,1)" font-size="9.4" text-anchor="end" font-family='"Liberation Sans", sans-serif'>0.0</text>
<text transform="translate(302,63.9) scale(0.95,1)" font-size="9.4" text-anchor="end" font-family='"Liberation Sans", sans-serif'>-0.1</text>
<text transform="translate(302,101.4) scale(0.95,1)" font-size="9.4" text-anchor="end" font-family='"Liberation Sans", sans-serif'>-0.2</text>
<text transform="translate(302,138.9) scale(0.95,1)" font-size="9.4" text-anchor="end" font-family='"Liberation Sans", sans-serif'>-0.3</text>
<text transform="translate(302,176.4) scale(0.95,1)" font-size="9.4" text-anchor="end" font-family='"Liberation Sans", sans-serif'>-0.4</text>
<text x="421.2" y="202.3" font-size="9.6" text-anchor="middle" font-family='"Liberation Sans", sans-serif' >Angle (Degree)</text>
<text transform="translate(279.5,97.3) rotate(-90)" font-size="9.85" text-anchor="middle" font-family='"Liberation Sans", sans-serif'>Relative Energy (kcal/mol)</text>
<line x1="310.3" y1="121.3" x2="330.3" y2="121.3" stroke="#9a9a9a" stroke-width="1.1"/>
<polygon points="320.5,118 323.63,123.35 317.37,123.35" fill="#fff" stroke="#111" stroke-width="0.8"/>
<text x="333.7" y="124.62" font-size="9.5" text-anchor="start" font-family='"Liberation Sans", sans-serif' >B3++G</text>
<line x1="310.3" y1="133.2" x2="330.3" y2="133.2" stroke="#9a9a9a" stroke-width="1.1"/>
<polygon points="317.2,133.2 322.55,130.06 322.55,136.33" fill="#fff" stroke="#111" stroke-width="0.8"/>
<text x="333.7" y="136.52" font-size="9.5" text-anchor="start" font-family='"Liberation Sans", sans-serif' >MP+G</text>
<line x1="310.3" y1="144.7" x2="330.3" y2="144.7" stroke="#9a9a9a" stroke-width="1.1"/>
<polygon points="320.5,141.3 321.35,143.53 323.73,143.65 321.88,145.15 322.5,147.45 320.5,146.15 318.5,147.45 319.12,145.15 317.27,143.65 319.65,143.53" fill="#fff" stroke="#111" stroke-width="0.8"/>
<text x="333.7" y="148.02" font-size="9.5" text-anchor="start" font-family='"Liberation Sans", sans-serif' >MP++G</text>
<line x1="310.3" y1="156.4" x2="330.3" y2="156.4" stroke="#9a9a9a" stroke-width="1.1"/>
<rect x="318" y="153.9" width="5" height="5" fill="#000"/>
<text x="333.7" y="159.72" font-size="9.5" text-anchor="start" font-family='"Liberation Sans", sans-serif' >MP2+G</text>
<line x1="310.3" y1="167.9" x2="330.3" y2="167.9" stroke="#9a9a9a" stroke-width="1.1"/>
<polygon points="320.5,164.4 324,167.9 320.5,171.4 317,167.9" fill="#fff" stroke="#111" stroke-width="0.8"/>
<text x="333.7" y="171.22" font-size="9.5" text-anchor="start" font-family='"Liberation Sans", sans-serif' >MP2++G</text>
<line x1="477" y1="121.7" x2="497.4" y2="121.7" stroke="#9a9a9a" stroke-width="1.1"/>
<rect x="484.8" y="119.3" width="4.8" height="4.8" fill="#fff" stroke="#111" stroke-width="0.8"/>
<text x="501" y="125.03" font-size="9.5" text-anchor="start" font-family='"Liberation Sans", sans-serif' >B3G</text>
<line x1="477" y1="133.2" x2="497.4" y2="133.2" stroke="#9a9a9a" stroke-width="1.1"/>
<circle cx="487.2" cy="133.2" r="2.8" fill="#fff" stroke="#111" stroke-width="0.8"/>
<text x="501" y="136.52" font-size="9.5" text-anchor="start" font-family='"Liberation Sans", sans-serif' >B3+G</text>
<line x1="477" y1="144.5" x2="497.4" y2="144.5" stroke="#9a9a9a" stroke-width="1.1"/>
<polygon points="487.2,147.9 490.43,142.39 483.97,142.39" fill="#000" stroke="#000" stroke-width="0.5"/>
<text x="501" y="147.82" font-size="9.5" text-anchor="start" font-family='"Liberation Sans", sans-serif' >MPG</text>
<line x1="477" y1="155.8" x2="497.4" y2="155.8" stroke="#9a9a9a" stroke-width="1.1"/>
<polygon points="487.2,152.2 490.8,155.8 487.2,159.4 483.6,155.8" fill="#000"/>
<text x="501" y="159.12" font-size="9.5" text-anchor="start" font-family='"Liberation Sans", sans-serif' >MP2G</text>
<clipPath id="c33"><rect x="32.7" y="222.4" width="237.2" height="175.6"/></clipPath>
<rect x="33.4" y="222.4" width="237" height="175.6" fill="none" stroke="#1a1a1a" stroke-width="1"/>
<g clip-path="url(#c33)">
<path d="M33.4,248 C36.69,250.08 46.57,254.25 53.15,260.5 C59.73,266.75 66.32,275.92 72.9,285.5 C79.48,295.08 86.07,307.58 92.65,318 C99.23,328.42 105.82,339.92 112.4,348 C118.98,356.08 125.57,362.33 132.15,366.5 C138.73,370.67 145.32,373 151.9,373 C158.48,373 165.07,370.67 171.65,366.5 C178.23,362.33 184.82,356.08 191.4,348 C197.98,339.92 204.57,328.42 211.15,318 C217.73,307.58 224.32,295.08 230.9,285.5 C237.48,275.92 244.07,266.75 250.65,260.5 C257.23,254.25 267.11,250.08 270.4,248" fill="none" stroke="#333333" stroke-width="0.8"/>
<path d="M33.4,248 C36.69,249.67 46.57,254.08 53.15,258 C59.73,261.92 66.32,265.08 72.9,271.5 C79.48,277.92 86.07,289.67 92.65,296.5 C99.23,303.33 105.82,307.25 112.4,312.5 C118.98,317.75 125.57,325.25 132.15,328 C138.73,330.75 145.32,329 151.9,329 C158.48,329 165.07,330.75 171.65,328 C178.23,325.25 184.82,317.75 191.4,312.5 C197.98,307.25 204.57,303.33 211.15,296.5 C217.73,289.67 224.32,277.92 230.9,271.5 C237.48,265.08 244.07,261.92 250.65,258 C257.23,254.08 267.11,249.67 270.4,248" fill="none" stroke="#333333" stroke-width="0.8"/>
<path d="M33.4,248 C36.69,249.67 46.57,254.17 53.15,258 C59.73,261.83 66.32,264.67 72.9,271 C79.48,277.33 86.07,289.17 92.65,296 C99.23,302.83 105.82,306.83 112.4,312 C118.98,317.17 125.57,324.33 132.15,327 C138.73,329.67 145.32,328 151.9,328 C158.48,328 165.07,329.67 171.65,327 C178.23,324.33 184.82,317.17 191.4,312 C197.98,306.83 204.57,302.83 211.15,296 C217.73,289.17 224.32,277.33 230.9,271 C237.48,264.67 244.07,261.83 250.65,258 C257.23,254.17 267.11,249.67 270.4,248" fill="none" stroke="#333333" stroke-width="0.8"/>
<path d="M33.4,248 C36.69,249.75 46.57,254.5 53.15,258.5 C59.73,262.5 66.32,265.5 72.9,272 C79.48,278.5 86.07,290.67 92.65,297.5 C99.23,304.33 105.82,307.75 112.4,313 C118.98,318.25 125.57,326.17 132.15,329 C138.73,331.83 145.32,330 151.9,330 C158.48,330 165.07,331.83 171.65,329 C178.23,326.17 184.82,318.25 191.4,313 C197.98,307.75 204.57,304.33 211.15,297.5 C217.73,290.67 224.32,278.5 230.9,272 C237.48,265.5 244.07,262.5 250.65,258.5 C257.23,254.5 267.11,249.75 270.4,248" fill="none" stroke="#333333" stroke-width="0.8"/>
<path d="M33.4,248 C36.69,249.92 46.57,254.75 53.15,259.5 C59.73,264.25 66.32,268.58 72.9,276.5 C79.48,284.42 86.07,298.67 92.65,307 C99.23,315.33 105.82,320.08 112.4,326.5 C118.98,332.92 125.57,341.83 132.15,345.5 C138.73,349.17 145.32,348.5 151.9,348.5 C158.48,348.5 165.07,349.17 171.65,345.5 C178.23,341.83 184.82,332.92 191.4,326.5 C197.98,320.08 204.57,315.33 211.15,307 C217.73,298.67 224.32,284.42 230.9,276.5 C237.48,268.58 244.07,264.25 250.65,259.5 C257.23,254.75 267.11,249.92 270.4,248" fill="none" stroke="#333333" stroke-width="0.8"/>
<path d="M33.4,248 C36.69,249.83 46.57,254.75 53.15,259 C59.73,263.25 66.32,266.58 72.9,273.5 C79.48,280.42 86.07,292.75 92.65,300.5 C99.23,308.25 105.82,313.79 112.4,320 C118.98,326.21 125.57,334.71 132.15,337.75 C138.73,340.79 145.32,338.25 151.9,338.25 C158.48,338.25 165.07,340.79 171.65,337.75 C178.23,334.71 184.82,326.21 191.4,320 C197.98,313.79 204.57,308.25 211.15,300.5 C217.73,292.75 224.32,280.42 230.9,273.5 C237.48,266.58 244.07,263.25 250.65,259 C257.23,254.75 267.11,249.83 270.4,248" fill="none" stroke="#333333" stroke-width="0.8"/>
<path d="M33.4,248 C36.69,249.83 46.57,254.75 53.15,259 C59.73,263.25 66.32,266.58 72.9,273.5 C79.48,280.42 86.07,292.75 92.65,300.5 C99.23,308.25 105.82,313.75 112.4,320 C118.98,326.25 125.57,334.92 132.15,338 C138.73,341.08 145.32,338.5 151.9,338.5 C158.48,338.5 165.07,341.08 171.65,338 C178.23,334.92 184.82,326.25 191.4,320 C197.98,313.75 204.57,308.25 211.15,300.5 C217.73,292.75 224.32,280.42 230.9,273.5 C237.48,266.58 244.07,263.25 250.65,259 C257.23,254.75 267.11,249.83 270.4,248" fill="none" stroke="#333333" stroke-width="0.8"/>
<path d="M33.4,248 C36.69,250.08 46.57,254.17 53.15,260.5 C59.73,266.83 66.32,275.67 72.9,286 C79.48,296.33 86.07,311.17 92.65,322.5 C99.23,333.83 105.82,345.42 112.4,354 C118.98,362.58 125.57,369.46 132.15,374 C138.73,378.54 145.32,381.25 151.9,381.25 C158.48,381.25 165.07,378.54 171.65,374 C178.23,369.46 184.82,362.58 191.4,354 C197.98,345.42 204.57,333.83 211.15,322.5 C217.73,311.17 224.32,296.33 230.9,286 C237.48,275.67 244.07,266.83 250.65,260.5 C257.23,254.17 267.11,250.08 270.4,248" fill="none" stroke="#333333" stroke-width="0.8"/>
<path d="M33.4,248 C36.69,250.08 46.57,254.17 53.15,260.5 C59.73,266.83 66.32,276.33 72.9,286 C79.48,295.67 86.07,308 92.65,318.5 C99.23,329 105.82,340.88 112.4,349 C118.98,357.12 125.57,363.08 132.15,367.25 C138.73,371.42 145.32,374 151.9,374 C158.48,374 165.07,371.42 171.65,367.25 C178.23,363.08 184.82,357.12 191.4,349 C197.98,340.88 204.57,329 211.15,318.5 C217.73,308 224.32,295.67 230.9,286 C237.48,276.33 244.07,266.83 250.65,260.5 C257.23,254.17 267.11,250.08 270.4,248" fill="none" stroke="#333333" stroke-width="0.8"/>
<circle cx="33.4" cy="248" r="2.8" fill="#fff" stroke="#111" stroke-width="0.8"/>
<circle cx="53.15" cy="260.5" r="2.8" fill="#fff" stroke="#111" stroke-width="0.8"/>
<circle cx="72.9" cy="285.5" r="2.8" fill="#fff" stroke="#111" stroke-width="0.8"/>
<circle cx="92.65" cy="318" r="2.8" fill="#fff" stroke="#111" stroke-width="0.8"/>
<circle cx="112.4" cy="348" r="2.8" fill="#fff" stroke="#111" stroke-width="0.8"/>
<circle cx="132.15" cy="366.5" r="2.8" fill="#fff" stroke="#111" stroke-width="0.8"/>
<circle cx="151.9" cy="373" r="2.8" fill="#fff" stroke="#111" stroke-width="0.8"/>
<circle cx="171.65" cy="366.5" r="2.8" fill="#fff" stroke="#111" stroke-width="0.8"/>
<circle cx="191.4" cy="348" r="2.8" fill="#fff" stroke="#111" stroke-width="0.8"/>
<circle cx="211.15" cy="318" r="2.8" fill="#fff" stroke="#111" stroke-width="0.8"/>
<circle cx="230.9" cy="285.5" r="2.8" fill="#fff" stroke="#111" stroke-width="0.8"/>
<circle cx="250.65" cy="260.5" r="2.8" fill="#fff" stroke="#111" stroke-width="0.8"/>
<circle cx="270.4" cy="248" r="2.8" fill="#fff" stroke="#111" stroke-width="0.8"/>
<polygon points="33.4,244.7 36.53,250.05 30.27,250.05" fill="#fff" stroke="#111" stroke-width="0.8"/>
<polygon points="53.15,254.7 56.28,260.05 50.01,260.05" fill="#fff" stroke="#111" stroke-width="0.8"/>
<polygon points="72.9,268.2 76.03,273.55 69.76,273.55" fill="#fff" stroke="#111" stroke-width="0.8"/>
<polygon points="92.65,293.2 95.78,298.55 89.51,298.55" fill="#fff" stroke="#111" stroke-width="0.8"/>
<polygon points="112.4,309.2 115.53,314.55 109.26,314.55" fill="#fff" stroke="#111" stroke-width="0.8"/>
<polygon points="132.15,324.7 135.28,330.05 129.01,330.05" fill="#fff" stroke="#111" stroke-width="0.8"/>
<polygon points="151.9,325.7 155.03,331.05 148.76,331.05" fill="#fff" stroke="#111" stroke-width="0.8"/>
<polygon points="171.65,324.7 174.78,330.05 168.51,330.05" fill="#fff" stroke="#111" stroke-width="0.8"/>
<polygon points="191.4,309.2 194.53,314.55 188.26,314.55" fill="#fff" stroke="#111" stroke-width="0.8"/>
<polygon points="211.15,293.2 214.28,298.55 208.01,298.55" fill="#fff" stroke="#111" stroke-width="0.8"/>
<polygon points="230.9,268.2 234.03,273.55 227.76,273.55" fill="#fff" stroke="#111" stroke-width="0.8"/>
<polygon points="250.65,254.7 253.78,260.05 247.51,260.05" fill="#fff" stroke="#111" stroke-width="0.8"/>
<polygon points="270.4,244.7 273.53,250.05 267.26,250.05" fill="#fff" stroke="#111" stroke-width="0.8"/>
<polygon points="30.1,248 35.45,244.87 35.45,251.13" fill="#fff" stroke="#111" stroke-width="0.8"/>
<polygon points="49.85,258 55.2,254.87 55.2,261.13" fill="#fff" stroke="#111" stroke-width="0.8"/>
<polygon points="69.6,271 74.95,267.87 74.95,274.13" fill="#fff" stroke="#111" stroke-width="0.8"/>
<polygon points="89.35,296 94.7,292.87 94.7,299.13" fill="#fff" stroke="#111" stroke-width="0.8"/>
<polygon points="109.1,312 114.45,308.87 114.45,315.13" fill="#fff" stroke="#111" stroke-width="0.8"/>
<polygon points="128.85,327 134.2,323.87 134.2,330.13" fill="#fff" stroke="#111" stroke-width="0.8"/>
<polygon points="148.6,328 153.95,324.87 153.95,331.13" fill="#fff" stroke="#111" stroke-width="0.8"/>
<polygon points="168.35,327 173.7,323.87 173.7,330.13" fill="#fff" stroke="#111" stroke-width="0.8"/>
<polygon points="188.1,312 193.45,308.87 193.45,315.13" fill="#fff" stroke="#111" stroke-width="0.8"/>
<polygon points="207.85,296 213.2,292.87 213.2,299.13" fill="#fff" stroke="#111" stroke-width="0.8"/>
<polygon points="227.6,271 232.95,267.87 232.95,274.13" fill="#fff" stroke="#111" stroke-width="0.8"/>
<polygon points="247.35,258 252.7,254.87 252.7,261.13" fill="#fff" stroke="#111" stroke-width="0.8"/>
<polygon points="267.1,248 272.45,244.87 272.45,251.13" fill="#fff" stroke="#111" stroke-width="0.8"/>
<polygon points="33.4,244.6 34.25,246.83 36.63,246.95 34.78,248.45 35.4,250.75 33.4,249.45 31.4,250.75 32.02,248.45 30.17,246.95 32.55,246.83" fill="#fff" stroke="#111" stroke-width="0.8"/>
<polygon points="53.15,255.1 54,257.33 56.38,257.45 54.53,258.95 55.15,261.25 53.15,259.95 51.15,261.25 51.77,258.95 49.92,257.45 52.3,257.33" fill="#fff" stroke="#111" stroke-width="0.8"/>
<polygon points="72.9,268.6 73.75,270.83 76.13,270.95 74.28,272.45 74.9,274.75 72.9,273.45 70.9,274.75 71.52,272.45 69.67,270.95 72.05,270.83" fill="#fff" stroke="#111" stroke-width="0.8"/>
<polygon points="92.65,294.1 93.5,296.33 95.88,296.45 94.03,297.95 94.65,300.25 92.65,298.95 90.65,300.25 91.27,297.95 89.42,296.45 91.8,296.33" fill="#fff" stroke="#111" stroke-width="0.8"/>
<polygon points="112.4,309.6 113.25,311.83 115.63,311.95 113.78,313.45 114.4,315.75 112.4,314.45 110.4,315.75 111.02,313.45 109.17,311.95 111.55,311.83" fill="#fff" stroke="#111" stroke-width="0.8"/>
<polygon points="132.15,325.6 133,327.83 135.38,327.95 133.53,329.45 134.15,331.75 132.15,330.45 130.15,331.75 130.77,329.45 128.92,327.95 131.3,327.83" fill="#fff" stroke="#111" stroke-width="0.8"/>
<polygon points="151.9,326.6 152.75,328.83 155.13,328.95 153.28,330.45 153.9,332.75 151.9,331.45 149.9,332.75 150.52,330.45 148.67,328.95 151.05,328.83" fill="#fff" stroke="#111" stroke-width="0.8"/>
<polygon points="171.65,325.6 172.5,327.83 174.88,327.95 173.03,329.45 173.65,331.75 171.65,330.45 169.65,331.75 170.27,329.45 168.42,327.95 170.8,327.83" fill="#fff" stroke="#111" stroke-width="0.8"/>
<polygon points="191.4,309.6 192.25,311.83 194.63,311.95 192.78,313.45 193.4,315.75 191.4,314.45 189.4,315.75 190.02,313.45 188.17,311.95 190.55,311.83" fill="#fff" stroke="#111" stroke-width="0.8"/>
<polygon points="211.15,294.1 212,296.33 214.38,296.45 212.53,297.95 213.15,300.25 211.15,298.95 209.15,300.25 209.77,297.95 207.92,296.45 210.3,296.33" fill="#fff" stroke="#111" stroke-width="0.8"/>
<polygon points="230.9,268.6 231.75,270.83 234.13,270.95 232.28,272.45 232.9,274.75 230.9,273.45 228.9,274.75 229.52,272.45 227.67,270.95 230.05,270.83" fill="#fff" stroke="#111" stroke-width="0.8"/>
<polygon points="250.65,255.1 251.5,257.33 253.88,257.45 252.03,258.95 252.65,261.25 250.65,259.95 248.65,261.25 249.27,258.95 247.42,257.45 249.8,257.33" fill="#fff" stroke="#111" stroke-width="0.8"/>
<polygon points="270.4,244.6 271.25,246.83 273.63,246.95 271.78,248.45 272.4,250.75 270.4,249.45 268.4,250.75 269.02,248.45 267.17,246.95 269.55,246.83" fill="#fff" stroke="#111" stroke-width="0.8"/>
<rect x="31" y="245.6" width="4.8" height="4.8" fill="#fff" stroke="#111" stroke-width="0.8"/>
<rect x="50.75" y="257.1" width="4.8" height="4.8" fill="#fff" stroke="#111" stroke-width="0.8"/>
<rect x="70.5" y="274.1" width="4.8" height="4.8" fill="#fff" stroke="#111" stroke-width="0.8"/>
<rect x="90.25" y="304.6" width="4.8" height="4.8" fill="#fff" stroke="#111" stroke-width="0.8"/>
<rect x="110" y="324.1" width="4.8" height="4.8" fill="#fff" stroke="#111" stroke-width="0.8"/>
<rect x="129.75" y="343.1" width="4.8" height="4.8" fill="#fff" stroke="#111" stroke-width="0.8"/>
<rect x="149.5" y="346.1" width="4.8" height="4.8" fill="#fff" stroke="#111" stroke-width="0.8"/>
<rect x="169.25" y="343.1" width="4.8" height="4.8" fill="#fff" stroke="#111" stroke-width="0.8"/>
<rect x="189" y="324.1" width="4.8" height="4.8" fill="#fff" stroke="#111" stroke-width="0.8"/>
<rect x="208.75" y="304.6" width="4.8" height="4.8" fill="#fff" stroke="#111" stroke-width="0.8"/>
<rect x="228.5" y="274.1" width="4.8" height="4.8" fill="#fff" stroke="#111" stroke-width="0.8"/>
<rect x="248.25" y="257.1" width="4.8" height="4.8" fill="#fff" stroke="#111" stroke-width="0.8"/>
<rect x="268" y="245.6" width="4.8" height="4.8" fill="#fff" stroke="#111" stroke-width="0.8"/>
<rect x="30.9" y="245.5" width="5" height="5" fill="#000"/>
<rect x="50.65" y="256.5" width="5" height="5" fill="#000"/>
<rect x="70.4" y="271" width="5" height="5" fill="#000"/>
<rect x="90.15" y="298" width="5" height="5" fill="#000"/>
<rect x="109.9" y="317.5" width="5" height="5" fill="#000"/>
<rect x="129.65" y="335.25" width="5" height="5" fill="#000"/>
<rect x="149.4" y="335.75" width="5" height="5" fill="#000"/>
<rect x="169.15" y="335.25" width="5" height="5" fill="#000"/>
<rect x="188.9" y="317.5" width="5" height="5" fill="#000"/>
<rect x="208.65" y="298" width="5" height="5" fill="#000"/>
<rect x="228.4" y="271" width="5" height="5" fill="#000"/>
<rect x="248.15" y="256.5" width="5" height="5" fill="#000"/>
<rect x="267.9" y="245.5" width="5" height="5" fill="#000"/>
<polygon points="33.4,251.4 36.63,245.89 30.17,245.89" fill="#000" stroke="#000" stroke-width="0.5"/>
<polygon points="53.15,262.4 56.38,256.89 49.92,256.89" fill="#000" stroke="#000" stroke-width="0.5"/>
<polygon points="72.9,276.9 76.13,271.39 69.67,271.39" fill="#000" stroke="#000" stroke-width="0.5"/>
<polygon points="92.65,303.9 95.88,298.39 89.42,298.39" fill="#000" stroke="#000" stroke-width="0.5"/>
<polygon points="112.4,323.4 115.63,317.89 109.17,317.89" fill="#000" stroke="#000" stroke-width="0.5"/>
<polygon points="132.15,341.4 135.38,335.89 128.92,335.89" fill="#000" stroke="#000" stroke-width="0.5"/>
<polygon points="151.9,341.9 155.13,336.39 148.67,336.39" fill="#000" stroke="#000" stroke-width="0.5"/>
<polygon points="171.65,341.4 174.88,335.89 168.42,335.89" fill="#000" stroke="#000" stroke-width="0.5"/>
<polygon points="191.4,323.4 194.63,317.89 188.17,317.89" fill="#000" stroke="#000" stroke-width="0.5"/>
<polygon points="211.15,303.9 214.38,298.39 207.92,298.39" fill="#000" stroke="#000" stroke-width="0.5"/>
<polygon points="230.9,276.9 234.13,271.39 227.67,271.39" fill="#000" stroke="#000" stroke-width="0.5"/>
<polygon points="250.65,262.4 253.88,256.89 247.42,256.89" fill="#000" stroke="#000" stroke-width="0.5"/>
<polygon points="270.4,251.4 273.63,245.89 267.17,245.89" fill="#000" stroke="#000" stroke-width="0.5"/>
<polygon points="33.4,244.4 37,248 33.4,251.6 29.8,248" fill="#000"/>
<polygon points="53.15,256.9 56.75,260.5 53.15,264.1 49.55,260.5" fill="#000"/>
<polygon points="72.9,282.4 76.5,286 72.9,289.6 69.3,286" fill="#000"/>
<polygon points="92.65,318.9 96.25,322.5 92.65,326.1 89.05,322.5" fill="#000"/>
<polygon points="112.4,350.4 116,354 112.4,357.6 108.8,354" fill="#000"/>
<polygon points="132.15,370.4 135.75,374 132.15,377.6 128.55,374" fill="#000"/>
<polygon points="151.9,377.65 155.5,381.25 151.9,384.85 148.3,381.25" fill="#000"/>
<polygon points="171.65,370.4 175.25,374 171.65,377.6 168.05,374" fill="#000"/>
<polygon points="191.4,350.4 195,354 191.4,357.6 187.8,354" fill="#000"/>
<polygon points="211.15,318.9 214.75,322.5 211.15,326.1 207.55,322.5" fill="#000"/>
<polygon points="230.9,282.4 234.5,286 230.9,289.6 227.3,286" fill="#000"/>
<polygon points="250.65,256.9 254.25,260.5 250.65,264.1 247.05,260.5" fill="#000"/>
<polygon points="270.4,244.4 274,248 270.4,251.6 266.8,248" fill="#000"/>
<polygon points="33.4,244.5 36.9,248 33.4,251.5 29.9,248" fill="#fff" stroke="#111" stroke-width="0.8"/>
<polygon points="53.15,257 56.65,260.5 53.15,264 49.65,260.5" fill="#fff" stroke="#111" stroke-width="0.8"/>
<polygon points="72.9,282.5 76.4,286 72.9,289.5 69.4,286" fill="#fff" stroke="#111" stroke-width="0.8"/>
<polygon points="92.65,315 96.15,318.5 92.65,322 89.15,318.5" fill="#fff" stroke="#111" stroke-width="0.8"/>
<polygon points="112.4,345.5 115.9,349 112.4,352.5 108.9,349" fill="#fff" stroke="#111" stroke-width="0.8"/>
<polygon points="132.15,363.75 135.65,367.25 132.15,370.75 128.65,367.25" fill="#fff" stroke="#111" stroke-width="0.8"/>
<polygon points="151.9,370.5 155.4,374 151.9,377.5 148.4,374" fill="#fff" stroke="#111" stroke-width="0.8"/>
<polygon points="171.65,363.75 175.15,367.25 171.65,370.75 168.15,367.25" fill="#fff" stroke="#111" stroke-width="0.8"/>
<polygon points="191.4,345.5 194.9,349 191.4,352.5 187.9,349" fill="#fff" stroke="#111" stroke-width="0.8"/>
<polygon points="211.15,315 214.65,318.5 211.15,322 207.65,318.5" fill="#fff" stroke="#111" stroke-width="0.8"/>
<polygon points="230.9,282.5 234.4,286 230.9,289.5 227.4,286" fill="#fff" stroke="#111" stroke-width="0.8"/>
<polygon points="250.65,257 254.15,260.5 250.65,264 247.15,260.5" fill="#fff" stroke="#111" stroke-width="0.8"/>
<polygon points="270.4,244.5 273.9,248 270.4,251.5 266.9,248" fill="#fff" stroke="#111" stroke-width="0.8"/>
<polygon points="33.4,244.5 36.9,248 33.4,251.5 29.9,248" fill="#fff" stroke="#111" stroke-width="0.8"/>
<polygon points="270.4,244.5 273.9,248 270.4,251.5 266.9,248" fill="#fff" stroke="#111" stroke-width="0.8"/>
</g>
<line x1="270.4" y1="222.4" x2="270.4" y2="398" stroke="#1a1a1a" stroke-width="1"/>
<path d="M33.4,398 v3 M53.15,398 v2 M72.9,398 v3 M92.65,398 v2 M112.4,398 v3 M132.15,398 v2 M151.9,398 v3 M171.65,398 v2 M191.4,398 v3 M211.15,398 v2 M230.9,398 v3 M250.65,398 v2 M270.4,398 v3 M57.1,222.4 v2 M80.8,222.4 v3 M104.5,222.4 v2 M128.2,222.4 v3 M151.9,222.4 v2 M175.6,222.4 v3 M199.3,222.4 v2 M223,222.4 v3 M246.7,222.4 v2 M33.4,248 h-3.5 M33.4,273 h-2 M33.4,298 h-3.5 M33.4,323 h-2 M33.4,348 h-3.5 M33.4,373 h-2 M33.4,398 h-3.5 M270.4,239.96 h-2.5 M270.4,257.52 h-2.5 M270.4,275.08 h-2.5 M270.4,292.64 h-2.5 M270.4,310.2 h-2.5 M270.4,327.76 h-2.5 M270.4,345.32 h-2.5 M270.4,362.88 h-2.5 M270.4,380.44 h-2.5" stroke="#1a1a1a" stroke-width="0.9" fill="none"/>
<text x="33.4" y="411" font-size="9.4" text-anchor="middle" font-family='"Liberation Sans", sans-serif' >0</text>
<text x="72.9" y="411" font-size="9.4" text-anchor="middle" font-family='"Liberation Sans", sans-serif' >20</text>
<text x="112.4" y="411" font-size="9.4" text-anchor="middle" font-family='"Liberation Sans", sans-serif' >40</text>
<text x="151.9" y="411" font-size="9.4" text-anchor="middle" font-family='"Liberation Sans", sans-serif' >60</text>
<text x="191.4" y="411" font-size="9.4" text-anchor="middle" font-family='"Liberation Sans", sans-serif' >80</text>
<text x="230.9" y="411" font-size="9.4" text-anchor="middle" font-family='"Liberation Sans", sans-serif' >100</text>
<text x="270.4" y="411" font-size="9.4" text-anchor="middle" font-family='"Liberation Sans", sans-serif' >120</text>
<text transform="translate(27.4,250.4) scale(0.95,1)" font-size="9.4" text-anchor="end" font-family='"Liberation Sans", sans-serif'>0</text>
<text transform="translate(27.4,300.4) scale(0.95,1)" font-size="9.4" text-anchor="end" font-family='"Liberation Sans", sans-serif'>-1</text>
<text transform="translate(27.4,350.4) scale(0.95,1)" font-size="9.4" text-anchor="end" font-family='"Liberation Sans", sans-serif'>-2</text>
<text transform="translate(27.4,400.4) scale(0.95,1)" font-size="9.4" text-anchor="end" font-family='"Liberation Sans", sans-serif'>-3</text>
<text x="152" y="427.2" font-size="9.7" text-anchor="middle" font-family='"Liberation Sans", sans-serif' >Angle (Degree)</text>
<text transform="translate(13.9,317.1) rotate(-90)" font-size="9.8" text-anchor="middle" font-family='"Liberation Sans", sans-serif'>Relative Energy (kcal/mol)</text>
<line x1="37.8" y1="341.3" x2="58.7" y2="341.3" stroke="#9a9a9a" stroke-width="1.1"/>
<polygon points="48.6,338 51.73,343.35 45.47,343.35" fill="#fff" stroke="#111" stroke-width="0.8"/>
<text x="62.8" y="344.62" font-size="9.5" text-anchor="start" font-family='"Liberation Sans", sans-serif' >B3++G</text>
<line x1="37.8" y1="353.1" x2="58.7" y2="353.1" stroke="#9a9a9a" stroke-width="1.1"/>
<polygon points="45.3,353.1 50.65,349.97 50.65,356.24" fill="#fff" stroke="#111" stroke-width="0.8"/>
<text x="62.8" y="356.43" font-size="9.5" text-anchor="start" font-family='"Liberation Sans", sans-serif' >MP+G</text>
<line x1="37.8" y1="365.2" x2="58.7" y2="365.2" stroke="#9a9a9a" stroke-width="1.1"/>
<polygon points="48.6,361.8 49.45,364.03 51.83,364.15 49.98,365.65 50.6,367.95 48.6,366.65 46.6,367.95 47.22,365.65 45.37,364.15 47.75,364.03" fill="#fff" stroke="#111" stroke-width="0.8"/>
<text x="62.8" y="368.52" font-size="9.5" text-anchor="start" font-family='"Liberation Sans", sans-serif' >MP++G</text>
<line x1="37.8" y1="377.1" x2="58.7" y2="377.1" stroke="#9a9a9a" stroke-width="1.1"/>
<rect x="46.1" y="374.6" width="5" height="5" fill="#000"/>
<text x="62.8" y="380.43" font-size="9.5" text-anchor="start" font-family='"Liberation Sans", sans-serif' >MP2+G</text>
<line x1="37.8" y1="389.1" x2="58.7" y2="389.1" stroke="#9a9a9a" stroke-width="1.1"/>
<polygon points="48.6,385.6 52.1,389.1 48.6,392.6 45.1,389.1" fill="#fff" stroke="#111" stroke-width="0.8"/>
<text x="62.8" y="392.43" font-size="9.5" text-anchor="start" font-family='"Liberation Sans", sans-serif' >MP2++G</text>
<line x1="211.3" y1="347" x2="232.7" y2="347" stroke="#9a9a9a" stroke-width="1.1"/>
<rect x="219.8" y="344.6" width="4.8" height="4.8" fill="#fff" stroke="#111" stroke-width="0.8"/>
<text x="236.7" y="350.32" font-size="9.5" text-anchor="start" font-family='"Liberation Sans", sans-serif' >B3G</text>
<line x1="211.3" y1="358.8" x2="232.7" y2="358.8" stroke="#9a9a9a" stroke-width="1.1"/>
<circle cx="222.2" cy="358.8" r="2.8" fill="#fff" stroke="#111" stroke-width="0.8"/>
<text x="236.7" y="362.12" font-size="9.5" text-anchor="start" font-family='"Liberation Sans", sans-serif' >B3+G</text>
<line x1="211.3" y1="370.8" x2="232.7" y2="370.8" stroke="#9a9a9a" stroke-width="1.1"/>
<polygon points="222.2,374.2 225.43,368.69 218.97,368.69" fill="#000" stroke="#000" stroke-width="0.5"/>
<text x="236.7" y="374.12" font-size="9.5" text-anchor="start" font-family='"Liberation Sans", sans-serif' >MPG</text>
<line x1="211.3" y1="382.7" x2="232.7" y2="382.7" stroke="#9a9a9a" stroke-width="1.1"/>
<polygon points="222.2,379.1 225.8,382.7 222.2,386.3 218.6,382.7" fill="#000"/>
<text x="236.7" y="386.02" font-size="9.5" text-anchor="start" font-family='"Liberation Sans", sans-serif' >MP2G</text>
<clipPath id="c303"><rect x="303" y="220.4" width="236.8" height="176.6"/></clipPath>
<rect x="303.7" y="220.4" width="236.6" height="176.6" fill="none" stroke="#1a1a1a" stroke-width="1"/>
<g clip-path="url(#c303)">
<path d="M303.7,374.5 C306.99,373.18 316.84,371.04 323.42,366.55 C329.99,362.06 336.56,354.76 343.13,347.57 C349.71,340.37 356.28,331.42 362.85,323.37 C369.42,315.32 375.99,305.86 382.57,299.27 C389.14,292.68 395.71,287.52 402.28,283.82 C408.86,280.11 415.43,277.02 422,277.02 C428.57,277.02 435.14,280.11 441.72,283.82 C448.29,287.52 454.86,292.68 461.43,299.27 C468.01,305.86 474.58,315.32 481.15,323.37 C487.72,331.42 494.29,340.37 500.87,347.57 C507.44,354.76 514.01,362.06 520.58,366.55 C527.16,371.04 537.01,373.18 540.3,374.5" fill="none" stroke="#333333" stroke-width="0.8"/>
<path d="M303.7,374.5 C306.99,373.1 316.84,370.75 323.42,366.11 C329.99,361.48 336.56,354 343.13,346.69 C349.71,339.37 356.28,330.34 362.85,322.23 C369.42,314.12 375.99,304.67 382.57,298.03 C389.14,291.39 395.71,286.11 402.28,282.4 C408.86,278.69 415.43,275.78 422,275.78 C428.57,275.78 435.14,278.69 441.72,282.4 C448.29,286.11 454.86,291.39 461.43,298.03 C468.01,304.67 474.58,314.12 481.15,322.23 C487.72,330.34 494.29,339.37 500.87,346.69 C507.44,354 514.01,361.48 520.58,366.11 C527.16,370.75 537.01,373.1 540.3,374.5" fill="none" stroke="#333333" stroke-width="0.8"/>
<path d="M303.7,374.5 C306.99,373.25 316.84,371.34 323.42,366.99 C329.99,362.65 336.56,355.53 343.13,348.45 C349.71,341.37 356.28,332.51 362.85,324.52 C369.42,316.53 375.99,307.07 382.57,300.5 C389.14,293.94 395.71,288.85 402.28,285.14 C408.86,281.43 415.43,278.25 422,278.25 C428.57,278.25 435.14,281.43 441.72,285.14 C448.29,288.85 454.86,293.94 461.43,300.5 C468.01,307.07 474.58,316.53 481.15,324.52 C487.72,332.51 494.29,341.37 500.87,348.45 C507.44,355.53 514.01,362.65 520.58,366.99 C527.16,371.34 537.01,373.25 540.3,374.5" fill="none" stroke="#333333" stroke-width="0.8"/>
<path d="M303.7,374.5 C306.99,373.15 316.84,370.91 323.42,366.38 C329.99,361.84 336.56,354.53 343.13,347.3 C349.71,340.08 356.28,331.07 362.85,323.02 C369.42,314.97 375.99,305.6 382.57,299 C389.14,292.41 395.71,287.19 402.28,283.46 C408.86,279.74 415.43,276.66 422,276.66 C428.57,276.66 435.14,279.74 441.72,283.46 C448.29,287.19 454.86,292.41 461.43,299 C468.01,305.6 474.58,314.97 481.15,323.02 C487.72,331.07 494.29,340.08 500.87,347.3 C507.44,354.53 514.01,361.84 520.58,366.38 C527.16,370.91 537.01,373.15 540.3,374.5" fill="none" stroke="#333333" stroke-width="0.8"/>
<path d="M303.7,374.5 C306.99,373.32 316.84,371.56 323.42,367.44 C329.99,363.32 336.56,356.31 343.13,349.78 C349.71,343.24 356.28,335.25 362.85,328.23 C369.42,321.21 375.99,313.25 382.57,307.66 C389.14,302.06 395.71,298.3 402.28,294.68 C408.86,291.06 415.43,285.94 422,285.94 C428.57,285.94 435.14,291.06 441.72,294.68 C448.29,298.3 454.86,302.06 461.43,307.66 C468.01,313.25 474.58,321.21 481.15,328.23 C487.72,335.25 494.29,343.24 500.87,349.78 C507.44,356.31 514.01,363.32 520.58,367.44 C527.16,371.56 537.01,373.32 540.3,374.5" fill="none" stroke="#333333" stroke-width="0.8"/>
<path d="M303.7,374.5 C306.99,373.62 316.84,373.1 323.42,369.2 C329.99,365.3 336.56,357.24 343.13,351.1 C349.71,344.96 356.28,339.09 362.85,332.38 C369.42,325.67 375.99,316.43 382.57,310.84 C389.14,305.24 395.71,302.14 402.28,298.83 C408.86,295.52 415.43,290.97 422,290.97 C428.57,290.97 435.14,295.52 441.72,298.83 C448.29,302.14 454.86,305.24 461.43,310.84 C468.01,316.43 474.58,325.67 481.15,332.38 C487.72,339.09 494.29,344.96 500.87,351.1 C507.44,357.24 514.01,365.3 520.58,369.2 C527.16,373.1 537.01,373.62 540.3,374.5" fill="none" stroke="#333333" stroke-width="0.8"/>
<path d="M303.7,374.5 C306.99,372.73 316.84,369.79 323.42,363.9 C329.99,358.02 336.56,348.82 343.13,339.18 C349.71,329.54 356.28,316.81 362.85,306.07 C369.42,295.32 375.99,283.3 382.57,274.72 C389.14,266.14 395.71,259.27 402.28,254.59 C408.86,249.91 415.43,246.64 422,246.64 C428.57,246.64 435.14,249.91 441.72,254.59 C448.29,259.27 454.86,266.14 461.43,274.72 C468.01,283.3 474.58,295.32 481.15,306.07 C487.72,316.81 494.29,329.54 500.87,339.18 C507.44,348.82 514.01,358.02 520.58,363.9 C527.16,369.79 537.01,372.73 540.3,374.5" fill="none" stroke="#333333" stroke-width="0.8"/>
<path d="M303.7,374.5 C306.99,372.7 316.84,369.72 323.42,363.73 C329.99,357.74 336.56,348.25 343.13,338.56 C349.71,328.88 356.28,316.33 362.85,305.63 C369.42,294.93 375.99,282.93 382.57,274.37 C389.14,265.8 395.71,258.92 402.28,254.24 C408.86,249.56 415.43,246.29 422,246.29 C428.57,246.29 435.14,249.56 441.72,254.24 C448.29,258.92 454.86,265.8 461.43,274.37 C468.01,282.93 474.58,294.93 481.15,305.63 C487.72,316.33 494.29,328.88 500.87,338.56 C507.44,348.25 514.01,357.74 520.58,363.73 C527.16,369.72 537.01,372.7 540.3,374.5" fill="none" stroke="#333333" stroke-width="0.8"/>
<path d="M303.7,374.5 C306.99,374.21 316.84,377.15 323.42,372.73 C329.99,368.32 336.56,357.72 343.13,348.01 C349.71,338.3 356.28,325.16 362.85,314.46 C369.42,303.76 375.99,292.4 382.57,283.82 C389.14,275.24 395.71,267.66 402.28,262.98 C408.86,258.3 415.43,255.74 422,255.74 C428.57,255.74 435.14,258.3 441.72,262.98 C448.29,267.66 454.86,275.24 461.43,283.82 C468.01,292.4 474.58,303.76 481.15,314.46 C487.72,325.16 494.29,338.3 500.87,348.01 C507.44,357.72 514.01,368.32 520.58,372.73 C527.16,377.15 537.01,374.21 540.3,374.5" fill="none" stroke="#333333" stroke-width="0.8"/>
<circle cx="303.7" cy="374.5" r="2.8" fill="#fff" stroke="#111" stroke-width="0.8"/>
<circle cx="323.42" cy="366.55" r="2.8" fill="#fff" stroke="#111" stroke-width="0.8"/>
<circle cx="343.13" cy="347.57" r="2.8" fill="#fff" stroke="#111" stroke-width="0.8"/>
<circle cx="362.85" cy="323.37" r="2.8" fill="#fff" stroke="#111" stroke-width="0.8"/>
<circle cx="382.57" cy="299.27" r="2.8" fill="#fff" stroke="#111" stroke-width="0.8"/>
<circle cx="402.28" cy="283.82" r="2.8" fill="#fff" stroke="#111" stroke-width="0.8"/>
<circle cx="422" cy="277.02" r="2.8" fill="#fff" stroke="#111" stroke-width="0.8"/>
<circle cx="441.72" cy="283.82" r="2.8" fill="#fff" stroke="#111" stroke-width="0.8"/>
<circle cx="461.43" cy="299.27" r="2.8" fill="#fff" stroke="#111" stroke-width="0.8"/>
<circle cx="481.15" cy="323.37" r="2.8" fill="#fff" stroke="#111" stroke-width="0.8"/>
<circle cx="500.87" cy="347.57" r="2.8" fill="#fff" stroke="#111" stroke-width="0.8"/>
<circle cx="520.58" cy="366.55" r="2.8" fill="#fff" stroke="#111" stroke-width="0.8"/>
<circle cx="540.3" cy="374.5" r="2.8" fill="#fff" stroke="#111" stroke-width="0.8"/>
<polygon points="303.7,371.2 306.83,376.55 300.56,376.55" fill="#fff" stroke="#111" stroke-width="0.8"/>
<polygon points="323.42,362.81 326.55,368.16 320.28,368.16" fill="#fff" stroke="#111" stroke-width="0.8"/>
<polygon points="343.13,343.39 346.27,348.73 340,348.73" fill="#fff" stroke="#111" stroke-width="0.8"/>
<polygon points="362.85,318.93 365.98,324.27 359.71,324.27" fill="#fff" stroke="#111" stroke-width="0.8"/>
<polygon points="382.57,294.73 385.7,300.08 379.43,300.08" fill="#fff" stroke="#111" stroke-width="0.8"/>
<polygon points="402.28,279.1 405.42,284.45 399.15,284.45" fill="#fff" stroke="#111" stroke-width="0.8"/>
<polygon points="422,272.48 425.13,277.83 418.87,277.83" fill="#fff" stroke="#111" stroke-width="0.8"/>
<polygon points="441.72,279.1 444.85,284.45 438.58,284.45" fill="#fff" stroke="#111" stroke-width="0.8"/>
<polygon points="461.43,294.73 464.57,300.08 458.3,300.08" fill="#fff" stroke="#111" stroke-width="0.8"/>
<polygon points="481.15,318.93 484.28,324.27 478.01,324.27" fill="#fff" stroke="#111" stroke-width="0.8"/>
<polygon points="500.87,343.39 504,348.73 497.73,348.73" fill="#fff" stroke="#111" stroke-width="0.8"/>
<polygon points="520.58,362.81 523.72,368.16 517.45,368.16" fill="#fff" stroke="#111" stroke-width="0.8"/>
<polygon points="540.3,371.2 543.43,376.55 537.16,376.55" fill="#fff" stroke="#111" stroke-width="0.8"/>
<polygon points="300.4,374.5 305.75,371.37 305.75,377.63" fill="#fff" stroke="#111" stroke-width="0.8"/>
<polygon points="320.12,366.99 325.46,363.86 325.46,370.13" fill="#fff" stroke="#111" stroke-width="0.8"/>
<polygon points="339.83,348.45 345.18,345.32 345.18,351.59" fill="#fff" stroke="#111" stroke-width="0.8"/>
<polygon points="359.55,324.52 364.9,321.39 364.9,327.66" fill="#fff" stroke="#111" stroke-width="0.8"/>
<polygon points="379.27,300.5 384.61,297.37 384.61,303.64" fill="#fff" stroke="#111" stroke-width="0.8"/>
<polygon points="398.98,285.14 404.33,282.01 404.33,288.28" fill="#fff" stroke="#111" stroke-width="0.8"/>
<polygon points="418.7,278.25 424.05,275.12 424.05,281.39" fill="#fff" stroke="#111" stroke-width="0.8"/>
<polygon points="438.42,285.14 443.76,282.01 443.76,288.28" fill="#fff" stroke="#111" stroke-width="0.8"/>
<polygon points="458.13,300.5 463.48,297.37 463.48,303.64" fill="#fff" stroke="#111" stroke-width="0.8"/>
<polygon points="477.85,324.52 483.2,321.39 483.2,327.66" fill="#fff" stroke="#111" stroke-width="0.8"/>
<polygon points="497.57,348.45 502.91,345.32 502.91,351.59" fill="#fff" stroke="#111" stroke-width="0.8"/>
<polygon points="517.28,366.99 522.63,363.86 522.63,370.13" fill="#fff" stroke="#111" stroke-width="0.8"/>
<polygon points="537,374.5 542.35,371.37 542.35,377.63" fill="#fff" stroke="#111" stroke-width="0.8"/>
<polygon points="303.7,371.1 304.55,373.33 306.93,373.45 305.08,374.95 305.7,377.25 303.7,375.95 301.7,377.25 302.32,374.95 300.47,373.45 302.85,373.33" fill="#fff" stroke="#111" stroke-width="0.8"/>
<polygon points="323.42,362.98 324.27,365.2 326.65,365.33 324.8,366.82 325.42,369.13 323.42,367.83 321.42,369.13 322.04,366.82 320.18,365.33 322.56,365.2" fill="#fff" stroke="#111" stroke-width="0.8"/>
<polygon points="343.13,343.9 343.99,346.13 346.37,346.25 344.51,347.75 345.13,350.05 343.13,348.75 341.13,350.05 341.75,347.75 339.9,346.25 342.28,346.13" fill="#fff" stroke="#111" stroke-width="0.8"/>
<polygon points="362.85,319.62 363.7,321.85 366.08,321.97 364.23,323.47 364.85,325.77 362.85,324.47 360.85,325.77 361.47,323.47 359.62,321.97 362,321.85" fill="#fff" stroke="#111" stroke-width="0.8"/>
<polygon points="382.57,295.6 383.42,297.83 385.8,297.95 383.95,299.45 384.57,301.75 382.57,300.45 380.57,301.75 381.19,299.45 379.33,297.95 381.71,297.83" fill="#fff" stroke="#111" stroke-width="0.8"/>
<polygon points="402.28,280.06 403.14,282.29 405.52,282.41 403.66,283.91 404.28,286.21 402.28,284.91 400.28,286.21 400.9,283.91 399.05,282.41 401.43,282.29" fill="#fff" stroke="#111" stroke-width="0.8"/>
<polygon points="422,273.26 422.85,275.49 425.23,275.61 423.38,277.11 424,279.41 422,278.11 420,279.41 420.62,277.11 418.77,275.61 421.15,275.49" fill="#fff" stroke="#111" stroke-width="0.8"/>
<polygon points="441.72,280.06 442.57,282.29 444.95,282.41 443.1,283.91 443.72,286.21 441.72,284.91 439.72,286.21 440.34,283.91 438.48,282.41 440.86,282.29" fill="#fff" stroke="#111" stroke-width="0.8"/>
<polygon points="461.43,295.6 462.29,297.83 464.67,297.95 462.81,299.45 463.43,301.75 461.43,300.45 459.43,301.75 460.05,299.45 458.2,297.95 460.58,297.83" fill="#fff" stroke="#111" stroke-width="0.8"/>
<polygon points="481.15,319.62 482,321.85 484.38,321.97 482.53,323.47 483.15,325.77 481.15,324.47 479.15,325.77 479.77,323.47 477.92,321.97 480.3,321.85" fill="#fff" stroke="#111" stroke-width="0.8"/>
<polygon points="500.87,343.9 501.72,346.13 504.1,346.25 502.25,347.75 502.87,350.05 500.87,348.75 498.87,350.05 499.49,347.75 497.63,346.25 500.01,346.13" fill="#fff" stroke="#111" stroke-width="0.8"/>
<polygon points="520.58,362.98 521.44,365.2 523.82,365.33 521.96,366.82 522.58,369.13 520.58,367.83 518.58,369.13 519.2,366.82 517.35,365.33 519.73,365.2" fill="#fff" stroke="#111" stroke-width="0.8"/>
<polygon points="540.3,371.1 541.15,373.33 543.53,373.45 541.68,374.95 542.3,377.25 540.3,375.95 538.3,377.25 538.92,374.95 537.07,373.45 539.45,373.33" fill="#fff" stroke="#111" stroke-width="0.8"/>
<rect x="301.3" y="372.1" width="4.8" height="4.8" fill="#fff" stroke="#111" stroke-width="0.8"/>
<rect x="321.02" y="365.04" width="4.8" height="4.8" fill="#fff" stroke="#111" stroke-width="0.8"/>
<rect x="340.73" y="347.38" width="4.8" height="4.8" fill="#fff" stroke="#111" stroke-width="0.8"/>
<rect x="360.45" y="325.83" width="4.8" height="4.8" fill="#fff" stroke="#111" stroke-width="0.8"/>
<rect x="380.17" y="305.26" width="4.8" height="4.8" fill="#fff" stroke="#111" stroke-width="0.8"/>
<rect x="399.88" y="292.28" width="4.8" height="4.8" fill="#fff" stroke="#111" stroke-width="0.8"/>
<rect x="419.6" y="283.54" width="4.8" height="4.8" fill="#fff" stroke="#111" stroke-width="0.8"/>
<rect x="439.32" y="292.28" width="4.8" height="4.8" fill="#fff" stroke="#111" stroke-width="0.8"/>
<rect x="459.03" y="305.26" width="4.8" height="4.8" fill="#fff" stroke="#111" stroke-width="0.8"/>
<rect x="478.75" y="325.83" width="4.8" height="4.8" fill="#fff" stroke="#111" stroke-width="0.8"/>
<rect x="498.47" y="347.38" width="4.8" height="4.8" fill="#fff" stroke="#111" stroke-width="0.8"/>
<rect x="518.18" y="365.04" width="4.8" height="4.8" fill="#fff" stroke="#111" stroke-width="0.8"/>
<rect x="537.9" y="372.1" width="4.8" height="4.8" fill="#fff" stroke="#111" stroke-width="0.8"/>
<polygon points="303.7,377.9 306.93,372.39 300.47,372.39" fill="#000" stroke="#000" stroke-width="0.5"/>
<polygon points="323.42,372.6 326.65,367.09 320.19,367.09" fill="#000" stroke="#000" stroke-width="0.5"/>
<polygon points="343.13,354.5 346.36,348.99 339.9,348.99" fill="#000" stroke="#000" stroke-width="0.5"/>
<polygon points="362.85,335.78 366.08,330.27 359.62,330.27" fill="#000" stroke="#000" stroke-width="0.5"/>
<polygon points="382.57,314.24 385.8,308.73 379.34,308.73" fill="#000" stroke="#000" stroke-width="0.5"/>
<polygon points="402.28,302.23 405.51,296.72 399.05,296.72" fill="#000" stroke="#000" stroke-width="0.5"/>
<polygon points="422,294.37 425.23,288.86 418.77,288.86" fill="#000" stroke="#000" stroke-width="0.5"/>
<polygon points="441.72,302.23 444.95,296.72 438.49,296.72" fill="#000" stroke="#000" stroke-width="0.5"/>
<polygon points="461.43,314.24 464.66,308.73 458.2,308.73" fill="#000" stroke="#000" stroke-width="0.5"/>
<polygon points="481.15,335.78 484.38,330.27 477.92,330.27" fill="#000" stroke="#000" stroke-width="0.5"/>
<polygon points="500.87,354.5 504.1,348.99 497.64,348.99" fill="#000" stroke="#000" stroke-width="0.5"/>
<polygon points="520.58,372.6 523.81,367.09 517.35,367.09" fill="#000" stroke="#000" stroke-width="0.5"/>
<polygon points="540.3,377.9 543.53,372.39 537.07,372.39" fill="#000" stroke="#000" stroke-width="0.5"/>
<rect x="301.2" y="372" width="5" height="5" fill="#000"/>
<rect x="320.92" y="361.4" width="5" height="5" fill="#000"/>
<rect x="340.63" y="336.68" width="5" height="5" fill="#000"/>
<rect x="360.35" y="303.57" width="5" height="5" fill="#000"/>
<rect x="380.07" y="272.22" width="5" height="5" fill="#000"/>
<rect x="399.78" y="252.09" width="5" height="5" fill="#000"/>
<rect x="419.5" y="244.14" width="5" height="5" fill="#000"/>
<rect x="439.22" y="252.09" width="5" height="5" fill="#000"/>
<rect x="458.93" y="272.22" width="5" height="5" fill="#000"/>
<rect x="478.65" y="303.57" width="5" height="5" fill="#000"/>
<rect x="498.37" y="336.68" width="5" height="5" fill="#000"/>
<rect x="518.08" y="361.4" width="5" height="5" fill="#000"/>
<rect x="537.8" y="372" width="5" height="5" fill="#000"/>
<polygon points="303.7,371 307.2,374.5 303.7,378 300.2,374.5" fill="#fff" stroke="#111" stroke-width="0.8"/>
<polygon points="323.42,360.23 326.92,363.73 323.42,367.23 319.92,363.73" fill="#fff" stroke="#111" stroke-width="0.8"/>
<polygon points="343.13,335.06 346.63,338.56 343.13,342.06 339.63,338.56" fill="#fff" stroke="#111" stroke-width="0.8"/>
<polygon points="362.85,302.13 366.35,305.63 362.85,309.13 359.35,305.63" fill="#fff" stroke="#111" stroke-width="0.8"/>
<polygon points="382.57,270.87 386.07,274.37 382.57,277.87 379.07,274.37" fill="#fff" stroke="#111" stroke-width="0.8"/>
<polygon points="402.28,250.74 405.78,254.24 402.28,257.74 398.78,254.24" fill="#fff" stroke="#111" stroke-width="0.8"/>
<polygon points="422,242.79 425.5,246.29 422,249.79 418.5,246.29" fill="#fff" stroke="#111" stroke-width="0.8"/>
<polygon points="441.72,250.74 445.22,254.24 441.72,257.74 438.22,254.24" fill="#fff" stroke="#111" stroke-width="0.8"/>
<polygon points="461.43,270.87 464.93,274.37 461.43,277.87 457.93,274.37" fill="#fff" stroke="#111" stroke-width="0.8"/>
<polygon points="481.15,302.13 484.65,305.63 481.15,309.13 477.65,305.63" fill="#fff" stroke="#111" stroke-width="0.8"/>
<polygon points="500.87,335.06 504.37,338.56 500.87,342.06 497.37,338.56" fill="#fff" stroke="#111" stroke-width="0.8"/>
<polygon points="520.58,360.23 524.08,363.73 520.58,367.23 517.08,363.73" fill="#fff" stroke="#111" stroke-width="0.8"/>
<polygon points="540.3,371 543.8,374.5 540.3,378 536.8,374.5" fill="#fff" stroke="#111" stroke-width="0.8"/>
<polygon points="303.7,370.9 307.3,374.5 303.7,378.1 300.1,374.5" fill="#000"/>
<polygon points="323.42,369.13 327.02,372.73 323.42,376.33 319.82,372.73" fill="#000"/>
<polygon points="343.13,344.41 346.73,348.01 343.13,351.61 339.53,348.01" fill="#000"/>
<polygon points="362.85,310.86 366.45,314.46 362.85,318.06 359.25,314.46" fill="#000"/>
<polygon points="382.57,280.22 386.17,283.82 382.57,287.42 378.97,283.82" fill="#000"/>
<polygon points="402.28,259.38 405.88,262.98 402.28,266.58 398.68,262.98" fill="#000"/>
<polygon points="422,252.14 425.6,255.74 422,259.34 418.4,255.74" fill="#000"/>
<polygon points="441.72,259.38 445.32,262.98 441.72,266.58 438.12,262.98" fill="#000"/>
<polygon points="461.43,280.22 465.03,283.82 461.43,287.42 457.83,283.82" fill="#000"/>
<polygon points="481.15,310.86 484.75,314.46 481.15,318.06 477.55,314.46" fill="#000"/>
<polygon points="500.87,344.41 504.47,348.01 500.87,351.61 497.27,348.01" fill="#000"/>
<polygon points="520.58,369.13 524.18,372.73 520.58,376.33 516.98,372.73" fill="#000"/>
<polygon points="540.3,370.9 543.9,374.5 540.3,378.1 536.7,374.5" fill="#000"/>
<polygon points="303.7,371 307.2,374.5 303.7,378 300.2,374.5" fill="#fff" stroke="#111" stroke-width="0.8"/>
<polygon points="540.3,371 543.8,374.5 540.3,378 536.8,374.5" fill="#fff" stroke="#111" stroke-width="0.8"/>
</g>
<line x1="540.3" y1="220.4" x2="540.3" y2="397" stroke="#1a1a1a" stroke-width="1"/>
<path d="M303.7,397 v3 M323.42,397 v2 M343.13,397 v3 M362.85,397 v2 M382.57,397 v3 M402.28,397 v2 M422,397 v3 M441.72,397 v2 M461.43,397 v3 M481.15,397 v2 M500.87,397 v3 M520.58,397 v2 M540.3,397 v3 M327.36,220.4 v2 M351.02,220.4 v3 M374.68,220.4 v2 M398.34,220.4 v3 M422,220.4 v2 M445.66,220.4 v3 M469.32,220.4 v2 M492.98,220.4 v3 M516.64,220.4 v2 M303.7,374.5 h-3.5 M303.7,343.6 h-2 M303.7,312.69 h-3.5 M303.7,281.78 h-2 M303.7,250.88 h-3.5 M303.7,374.5 h-3.5 M540.3,238.06 h-2.5 M540.3,255.72 h-2.5 M540.3,273.38 h-2.5 M540.3,291.04 h-2.5 M540.3,308.7 h-2.5 M540.3,326.36 h-2.5 M540.3,344.02 h-2.5 M540.3,361.68 h-2.5 M540.3,379.34 h-2.5" stroke="#1a1a1a" stroke-width="0.9" fill="none"/>
<text x="303.7" y="409.3" font-size="8.2" text-anchor="middle" font-family='"Liberation Sans", sans-serif'  style="stroke-width:0.12px">0</text>
<text x="343.13" y="409.3" font-size="8.2" text-anchor="middle" font-family='"Liberation Sans", sans-serif'  style="stroke-width:0.12px">20</text>
<text x="382.57" y="409.3" font-size="8.2" text-anchor="middle" font-family='"Liberation Sans", sans-serif'  style="stroke-width:0.12px">40</text>
<text x="422" y="409.3" font-size="8.2" text-anchor="middle" font-family='"Liberation Sans", sans-serif'  style="stroke-width:0.12px">60</text>
<text x="461.43" y="409.3" font-size="8.2" text-anchor="middle" font-family='"Liberation Sans", sans-serif'  style="stroke-width:0.12px">80</text>
<text x="500.87" y="409.3" font-size="8.2" text-anchor="middle" font-family='"Liberation Sans", sans-serif'  style="stroke-width:0.12px">100</text>
<text x="540.3" y="409.3" font-size="8.2" text-anchor="middle" font-family='"Liberation Sans", sans-serif'  style="stroke-width:0.12px">120</text>
<text transform="translate(298.2,377.4) scale(0.95,1)" font-size="6.6" text-anchor="end" font-family='"Liberation Sans", sans-serif' style="stroke:none;fill:#333">0.0</text>
<text transform="translate(298.2,315.59) scale(0.95,1)" font-size="6.6" text-anchor="end" font-family='"Liberation Sans", sans-serif' style="stroke:none;fill:#333">0.7</text>
<text transform="translate(298.2,253.78) scale(0.95,1)" font-size="6.6" text-anchor="end" font-family='"Liberation Sans", sans-serif' style="stroke:none;fill:#333">1.4</text>
<text x="422.3" y="424.3" font-size="9.8" text-anchor="middle" font-family='"Liberation Sans", sans-serif' >Angle (Degree)</text>
<text transform="translate(281.7,313.9) rotate(-90)" font-size="9.9" text-anchor="middle" font-family='"Liberation Sans", sans-serif'>Relative Energy (kcal/mol)</text>
<line x1="306.4" y1="230" x2="327.3" y2="230" stroke="#9a9a9a" stroke-width="1.1"/>
<polygon points="317.3,226.7 320.44,232.05 314.17,232.05" fill="#fff" stroke="#111" stroke-width="0.8"/>
<text x="330.9" y="233.32" font-size="9.5" text-anchor="start" font-family='"Liberation Sans", sans-serif' >B3++G</text>
<line x1="306.4" y1="242.2" x2="327.3" y2="242.2" stroke="#9a9a9a" stroke-width="1.1"/>
<polygon points="314,242.2 319.35,239.06 319.35,245.33" fill="#fff" stroke="#111" stroke-width="0.8"/>
<text x="330.9" y="245.52" font-size="9.5" text-anchor="start" font-family='"Liberation Sans", sans-serif' >MP+G</text>
<line x1="306.4" y1="254.2" x2="327.3" y2="254.2" stroke="#9a9a9a" stroke-width="1.1"/>
<polygon points="317.3,250.8 318.15,253.03 320.53,253.15 318.68,254.65 319.3,256.95 317.3,255.65 315.3,256.95 315.92,254.65 314.07,253.15 316.45,253.03" fill="#fff" stroke="#111" stroke-width="0.8"/>
<text x="330.9" y="257.52" font-size="9.5" text-anchor="start" font-family='"Liberation Sans", sans-serif' >MP++G</text>
<line x1="306.4" y1="266.4" x2="327.3" y2="266.4" stroke="#9a9a9a" stroke-width="1.1"/>
<rect x="314.8" y="263.9" width="5" height="5" fill="#000"/>
<text x="330.9" y="269.72" font-size="9.5" text-anchor="start" font-family='"Liberation Sans", sans-serif' >MP2+G</text>
<line x1="306.4" y1="278.5" x2="327.3" y2="278.5" stroke="#9a9a9a" stroke-width="1.1"/>
<polygon points="317.3,275 320.8,278.5 317.3,282 313.8,278.5" fill="#fff" stroke="#111" stroke-width="0.8"/>
<text x="330.9" y="281.82" font-size="9.5" text-anchor="start" font-family='"Liberation Sans", sans-serif' >MP2++G</text>
<line x1="481.3" y1="235.5" x2="502.7" y2="235.5" stroke="#9a9a9a" stroke-width="1.1"/>
<rect x="490.1" y="233.1" width="4.8" height="4.8" fill="#fff" stroke="#111" stroke-width="0.8"/>
<text x="506.4" y="238.82" font-size="9.5" text-anchor="start" font-family='"Liberation Sans", sans-serif' >B3G</text>
<line x1="481.3" y1="247.5" x2="502.7" y2="247.5" stroke="#9a9a9a" stroke-width="1.1"/>
<circle cx="492.5" cy="247.5" r="2.8" fill="#fff" stroke="#111" stroke-width="0.8"/>
<text x="506.4" y="250.82" font-size="9.5" text-anchor="start" font-family='"Liberation Sans", sans-serif' >B3+G</text>
<line x1="481.3" y1="259.6" x2="502.7" y2="259.6" stroke="#9a9a9a" stroke-width="1.1"/>
<polygon points="492.5,263 495.73,257.49 489.27,257.49" fill="#000" stroke="#000" stroke-width="0.5"/>
<text x="506.4" y="262.93" font-size="9.5" text-anchor="start" font-family='"Liberation Sans", sans-serif' >MPG</text>
<line x1="481.3" y1="271.5" x2="502.7" y2="271.5" stroke="#9a9a9a" stroke-width="1.1"/>
<polygon points="492.5,267.9 496.1,271.5 492.5,275.1 488.9,271.5" fill="#000"/>
<text x="506.4" y="274.82" font-size="9.5" text-anchor="start" font-family='"Liberation Sans", sans-serif' >MP2G</text>
<text x="141.8" y="31.1" font-size="11.3" text-anchor="start" font-family='"Liberation Sans", sans-serif' >Core 1</text>
<text x="406.8" y="27.7" font-size="11.3" text-anchor="start" font-family='"Liberation Sans", sans-serif' >Core 2</text>
<ellipse cx="149.5" cy="280.1" rx="3.45" ry="3.5" fill="#000"/><ellipse cx="149.6" cy="280.25" rx="1.95" ry="2.55" fill="#fff"/><path d="M149,276.5 L154.6,276.5 L154.6,277.6 L150.5,277.7 Z" fill="#000"/>
<text x="155.5" y="289.8" font-size="12" text-anchor="start" font-family='"Liberation Serif", serif' >s</text>
<ellipse cx="419" cy="372.6" rx="3.45" ry="3.5" fill="#000"/><ellipse cx="419.1" cy="372.75" rx="1.95" ry="2.55" fill="#fff"/><path d="M418.5,369 L423.9,369 L423.9,370.1 L420,370.2 Z" fill="#000"/>
<text x="424.4" y="382.5" font-size="11.5" text-anchor="start" font-family='"Liberation Serif", serif' >s</text>
<text x="430" y="364.5" font-size="8" text-anchor="start" font-family='"Liberation Serif", serif' >*</text>
</svg>
</body></html>
